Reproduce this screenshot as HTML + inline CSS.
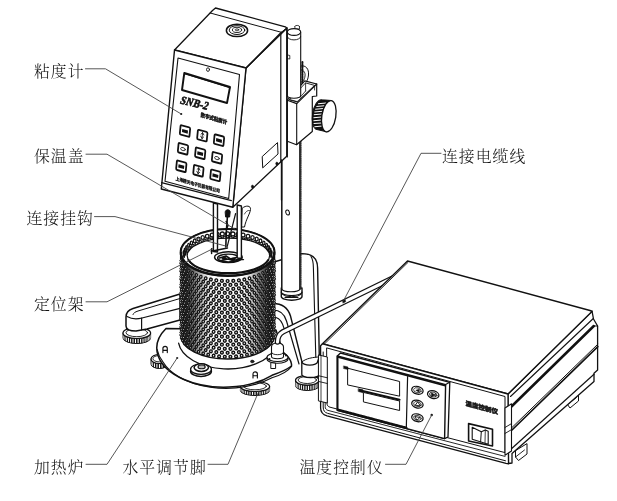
<!DOCTYPE html>
<html lang="zh"><head><meta charset="utf-8"><title>粘度计</title><style>html,body{margin:0;padding:0;background:#fff}svg{display:block;filter:grayscale(1)}</style></head><body>
<svg width="617" height="501" viewBox="0 0 617 501" stroke-linecap="round" stroke-linejoin="round">
<rect width="617" height="501" fill="#fff"/>
<path d="M295.5,380.3 L295.5,385.7 A11.8,4.8 0 0 0 319.1,385.7 L319.1,380.3Z" fill="#111" stroke="#111" stroke-width="1.0" />
<g stroke="#fff" stroke-linecap="butt"><line x1="295.8" y1="381.9" x2="295.8" y2="386.2" stroke-width="0.51"/><line x1="296.5" y1="382.9" x2="296.5" y2="387.2" stroke-width="0.66"/><line x1="297.8" y1="383.7" x2="297.8" y2="388.0" stroke-width="0.79"/><line x1="299.4" y1="384.5" x2="299.4" y2="388.8" stroke-width="0.91"/><line x1="301.4" y1="385.1" x2="301.4" y2="389.4" stroke-width="1.00"/><line x1="303.7" y1="385.5" x2="303.7" y2="389.8" stroke-width="1.06"/><line x1="306.1" y1="385.7" x2="306.1" y2="390.0" stroke-width="1.10"/><line x1="308.5" y1="385.7" x2="308.5" y2="390.0" stroke-width="1.10"/><line x1="310.9" y1="385.5" x2="310.9" y2="389.8" stroke-width="1.06"/><line x1="313.2" y1="385.1" x2="313.2" y2="389.4" stroke-width="1.00"/><line x1="315.2" y1="384.5" x2="315.2" y2="388.8" stroke-width="0.91"/><line x1="316.8" y1="383.7" x2="316.8" y2="388.0" stroke-width="0.79"/><line x1="318.1" y1="382.9" x2="318.1" y2="387.2" stroke-width="0.66"/><line x1="318.8" y1="381.9" x2="318.8" y2="386.2" stroke-width="0.51"/></g>
<ellipse cx="307.3" cy="380.3" rx="11.8" ry="4.8" fill="#fff" stroke="#111" stroke-width="1.2"/>
<ellipse cx="307.3" cy="380.0" rx="9.2" ry="3.5" fill="#fff" stroke="#111" stroke-width="0.9"/>
<path d="M301.8,362 L301.8,374.5 A8.8,3 0 0 0 319.4,374.5 L319.4,358 Z" fill="#fff" stroke="#111" stroke-width="1.3" />
<path d="M273,303.5 C283,303.5 288,308 290.5,316 L302,362 A7.5,3 0 0 0 317.5,362 L319.3,357 L317.6,268 C317.6,258 312,253.6 302,253.6 L274,262 Z" fill="#fff" stroke="#111" stroke-width="1.4" />
<path d="M273,310 C280,310 284.5,314 286.5,321 L299,364" fill="none" stroke="#111" stroke-width="1.2" />
<path d="M273,317 C277,317 280.5,319.5 282.5,324 L285,331" fill="none" stroke="#111" stroke-width="1.1" />
<path d="M311,256.5 C313,259.5 313.4,263 313.4,268 L315.8,357" fill="none" stroke="#111" stroke-width="1.1" />
<path d="M302,362 C305,358.5 314,357 319.3,357" fill="none" stroke="#111" stroke-width="1.0" />
<path d="M123.0,333.0 L123.0,338.0 A13.8,5.5 0 0 0 150.6,338.0 L150.6,333.0Z" fill="#111" stroke="#111" stroke-width="1.0" />
<g stroke="#fff" stroke-linecap="butt"><line x1="123.2" y1="334.6" x2="123.2" y2="338.5" stroke-width="0.49"/><line x1="123.9" y1="335.6" x2="123.9" y2="339.5" stroke-width="0.62"/><line x1="125.1" y1="336.5" x2="125.1" y2="340.4" stroke-width="0.74"/><line x1="126.6" y1="337.3" x2="126.6" y2="341.2" stroke-width="0.86"/><line x1="128.5" y1="338.0" x2="128.5" y2="341.9" stroke-width="0.95"/><line x1="130.6" y1="338.5" x2="130.6" y2="342.4" stroke-width="1.02"/><line x1="133.0" y1="338.9" x2="133.0" y2="342.8" stroke-width="1.07"/><line x1="135.5" y1="339.1" x2="135.5" y2="343.0" stroke-width="1.10"/><line x1="138.1" y1="339.1" x2="138.1" y2="343.0" stroke-width="1.10"/><line x1="140.6" y1="338.9" x2="140.6" y2="342.8" stroke-width="1.07"/><line x1="143.0" y1="338.5" x2="143.0" y2="342.4" stroke-width="1.02"/><line x1="145.1" y1="338.0" x2="145.1" y2="341.9" stroke-width="0.95"/><line x1="147.0" y1="337.3" x2="147.0" y2="341.2" stroke-width="0.86"/><line x1="148.5" y1="336.5" x2="148.5" y2="340.4" stroke-width="0.74"/><line x1="149.7" y1="335.6" x2="149.7" y2="339.5" stroke-width="0.62"/><line x1="150.4" y1="334.6" x2="150.4" y2="338.5" stroke-width="0.49"/></g>
<ellipse cx="136.8" cy="333.0" rx="13.8" ry="5.5" fill="#fff" stroke="#111" stroke-width="1.2"/>
<ellipse cx="136.8" cy="332.7" rx="10.8" ry="4.0" fill="#fff" stroke="#111" stroke-width="0.9"/>
<path d="M180,294 L133,308.5 C128,310 126,313 126,317 L126,326 C126,329 130,331 136,331 L147,329 L180,320 Z" fill="#fff" stroke="#111" stroke-width="1.5" />
<path d="M180,308.3 L142,318 C137,319.3 131,318.8 127,316.5" fill="none" stroke="#111" stroke-width="1.25" />
<path d="M141.6,318.2 L141.6,330" fill="none" stroke="#111" stroke-width="1.2" />
<path d="M180,298.5 L138,311 C135,312 133.5,313 133,314.5" fill="none" stroke="#111" stroke-width="1.0" />
<path d="M281.3,288 L281.3,296.5 A10.3,3.8 0 0 0 302,296.5 L302,288 Z" fill="#fff" stroke="#111" stroke-width="1.4" />
<path d="M281.3,292 A10.3,3.6 0 0 0 302,292" fill="none" stroke="#111" stroke-width="1.2" />
<path d="M282.5,294.5 A10,3.6 0 0 0 301,294.5" fill="none" stroke="#111" stroke-width="1.0" />
<path d="M285,297.3 L298,297.5" fill="none" stroke="#111" stroke-width="1.2" />
<path d="M281.6,160.0 L281.6,289.0 L300.2,289.0 L300.2,132.0 L296.5,144.8 L287.3,141.3 L287.3,156.0Z" fill="#fff" stroke="none" stroke-width="0" />
<line x1="281.8" y1="160.0" x2="281.8" y2="289.0" stroke="#111" stroke-width="1.5"/>
<line x1="299.9" y1="133.0" x2="299.9" y2="289.0" stroke="#111" stroke-width="1.5"/>
<line x1="287.3" y1="141.3" x2="287.3" y2="157.0" stroke="#111" stroke-width="1.1"/>
<path d="M281.6,289 A9.4,3.2 0 0 0 300.2,289" fill="none" stroke="#111" stroke-width="1.2" />
<line x1="300.9" y1="136" x2="300.9" y2="287" stroke="#111" stroke-width="1.2" stroke-dasharray="1.2 1"/>
<ellipse cx="287.6" cy="212.5" rx="1.8" ry="2.6" fill="#fff" stroke="#111" stroke-width="1.0" transform="rotate(-15 287.6 212.5)"/>
<path d="M151.0,359.0 L151.0,364.0 A8.5,4.5 0 0 0 168.0,364.0 L168.0,359.0Z" fill="#111" stroke="#111" stroke-width="1.0" />
<g stroke="#fff" stroke-linecap="butt"><line x1="151.4" y1="361.0" x2="151.4" y2="364.9" stroke-width="0.58"/><line x1="152.6" y1="362.2" x2="152.6" y2="366.1" stroke-width="0.79"/><line x1="154.5" y1="363.2" x2="154.5" y2="367.1" stroke-width="0.96"/><line x1="156.9" y1="363.9" x2="156.9" y2="367.8" stroke-width="1.06"/><line x1="159.5" y1="364.1" x2="159.5" y2="368.0" stroke-width="1.10"/><line x1="162.1" y1="363.9" x2="162.1" y2="367.8" stroke-width="1.06"/><line x1="164.5" y1="363.2" x2="164.5" y2="367.1" stroke-width="0.96"/><line x1="166.4" y1="362.2" x2="166.4" y2="366.1" stroke-width="0.79"/><line x1="167.6" y1="361.0" x2="167.6" y2="364.9" stroke-width="0.58"/></g>
<ellipse cx="159.5" cy="359.0" rx="8.5" ry="4.5" fill="#fff" stroke="#111" stroke-width="1.2"/>
<ellipse cx="159.5" cy="358.7" rx="6.6" ry="3.2" fill="#fff" stroke="#111" stroke-width="0.9"/>
<path d="M240.4,386.5 L240.4,390.5 A14.6,5.0 0 0 0 269.6,390.5 L269.6,386.5Z" fill="#111" stroke="#111" stroke-width="1.0" />
<g stroke="#fff" stroke-linecap="butt"><line x1="240.6" y1="388.0" x2="240.6" y2="390.9" stroke-width="0.48"/><line x1="241.3" y1="388.8" x2="241.3" y2="391.7" stroke-width="0.61"/><line x1="242.4" y1="389.6" x2="242.4" y2="392.5" stroke-width="0.72"/><line x1="243.8" y1="390.3" x2="243.8" y2="393.2" stroke-width="0.83"/><line x1="245.6" y1="390.9" x2="245.6" y2="393.8" stroke-width="0.92"/><line x1="247.7" y1="391.4" x2="247.7" y2="394.3" stroke-width="1.00"/><line x1="250.0" y1="391.8" x2="250.0" y2="394.7" stroke-width="1.05"/><line x1="252.5" y1="392.0" x2="252.5" y2="394.9" stroke-width="1.09"/><line x1="255.0" y1="392.1" x2="255.0" y2="395.0" stroke-width="1.10"/><line x1="257.5" y1="392.0" x2="257.5" y2="394.9" stroke-width="1.09"/><line x1="260.0" y1="391.8" x2="260.0" y2="394.7" stroke-width="1.05"/><line x1="262.3" y1="391.4" x2="262.3" y2="394.3" stroke-width="1.00"/><line x1="264.4" y1="390.9" x2="264.4" y2="393.8" stroke-width="0.92"/><line x1="266.2" y1="390.3" x2="266.2" y2="393.2" stroke-width="0.83"/><line x1="267.6" y1="389.6" x2="267.6" y2="392.5" stroke-width="0.73"/><line x1="268.7" y1="388.8" x2="268.7" y2="391.7" stroke-width="0.61"/><line x1="269.4" y1="388.0" x2="269.4" y2="390.9" stroke-width="0.48"/></g>
<ellipse cx="255.0" cy="386.5" rx="14.6" ry="5.0" fill="#fff" stroke="#111" stroke-width="1.2"/>
<ellipse cx="255.0" cy="386.2" rx="11.4" ry="3.6" fill="#fff" stroke="#111" stroke-width="0.9"/>
<path d="M166,328.5 A67,39 0 0 0 272,375.3 C280,372.5 287,369.5 291.5,366 L291.5,364 C291,360 288,356 283,352 L276,330 Z" fill="#fff" stroke="#111" stroke-width="1.5" />
<path d="M157.1,349.5 C158,354 160,358 163,362 A67,39 0 0 0 272,377.8 C281,375 288,371.5 291.5,366.5" fill="none" stroke="#111" stroke-width="1.2" />
<path d="M178.6,343.2 A49.5,29 0 0 0 275.5,347.7" fill="none" stroke="#111" stroke-width="1.3" />
<path d="M162.9,352.6 L162.9,348.6 A2.2,2.2 0 0 1 167.3,348.6 L167.3,352.6 M163.5,350.3 L166.7,350.3" fill="none" stroke="#111" stroke-width="1.15" />
<path d="M253,378 L253,374 A2.2,2.2 0 0 1 257.4,374 L257.4,378 M253.6,375.7 L256.8,375.7" fill="none" stroke="#111" stroke-width="1.15" />
<circle cx="177.2" cy="358" r="1.1" fill="#222"/>
<ellipse cx="252.3" cy="361.5" rx="1.8" ry="1.4" fill="#222" stroke="#111" stroke-width="0.5"/>
<ellipse cx="201.0" cy="371.2" rx="10.4" ry="5.2" fill="#fff" stroke="#111" stroke-width="1.5"/>
<ellipse cx="201.0" cy="369.2" rx="10.4" ry="5.2" fill="#fff" stroke="#111" stroke-width="1.3"/>
<ellipse cx="201.3" cy="367.6" rx="7.2" ry="3.8" fill="#fff" stroke="#111" stroke-width="1.5"/>
<ellipse cx="201.6" cy="366.9" rx="3.6" ry="1.9" fill="#bbb" stroke="#111" stroke-width="1.1"/>
<defs><linearGradient id="mg" x1="0" y1="0" x2="1" y2="0"><stop offset="0" stop-color="#111"/><stop offset="0.07" stop-color="#2a2a2a"/><stop offset="0.15" stop-color="#777"/><stop offset="0.24" stop-color="#ccc"/><stop offset="0.33" stop-color="#fff"/><stop offset="0.67" stop-color="#fff"/><stop offset="0.76" stop-color="#ccc"/><stop offset="0.85" stop-color="#777"/><stop offset="0.93" stop-color="#2a2a2a"/><stop offset="1" stop-color="#111"/></linearGradient></defs>
<path d="M180.6,252.5 L180.6,335.5 A47.0,23.5 0 0 0 274.6,335.5 L274.6,252.5 A47.0,23.5 0 0 0 180.6,252.5Z" fill="url(#mg)" stroke="#111" stroke-width="1.3" />
<g fill="#fff" stroke="#111" stroke-width="1.45"><ellipse cx="180.9" cy="260.2" rx="0.74" ry="1.40" stroke-width="0.87" transform="rotate(35 180.9 260.2)"/><ellipse cx="181.9" cy="263.0" rx="0.78" ry="1.40" stroke-width="0.95" transform="rotate(35 181.9 263.0)"/><ellipse cx="183.6" cy="265.7" rx="0.81" ry="1.40" stroke-width="1.03" transform="rotate(35 183.6 265.7)"/><ellipse cx="185.9" cy="268.3" rx="0.85" ry="1.40" stroke-width="1.10" transform="rotate(35 185.9 268.3)"/><ellipse cx="188.8" cy="270.8" rx="0.88" ry="1.40" stroke-width="1.17" transform="rotate(35 188.8 270.8)"/><ellipse cx="192.3" cy="273.0" rx="0.93" ry="1.40" stroke-width="1.23" transform="rotate(30 192.3 273.0)"/><ellipse cx="196.3" cy="275.0" rx="1.05" ry="1.40" stroke-width="1.29" transform="rotate(24 196.3 275.0)"/><ellipse cx="200.8" cy="276.8" rx="1.15" ry="1.40" stroke-width="1.33" transform="rotate(19 200.8 276.8)"/><ellipse cx="205.7" cy="278.3" rx="1.24" ry="1.40" stroke-width="1.38" transform="rotate(15 205.7 278.3)"/><ellipse cx="210.9" cy="279.5" rx="1.31" ry="1.40" stroke-width="1.41" transform="rotate(11 210.9 279.5)"/><ellipse cx="216.3" cy="280.3" rx="1.36" ry="1.40" stroke-width="1.43" transform="rotate(7 216.3 280.3)"/><ellipse cx="221.9" cy="280.8" rx="1.39" ry="1.40" stroke-width="1.45" transform="rotate(3 221.9 280.8)"/><ellipse cx="227.6" cy="281.0" rx="1.40" ry="1.40" stroke-width="1.45" transform="rotate(-0 227.6 281.0)"/><ellipse cx="233.3" cy="280.8" rx="1.39" ry="1.40" stroke-width="1.45" transform="rotate(-3 233.3 280.8)"/><ellipse cx="238.9" cy="280.3" rx="1.36" ry="1.40" stroke-width="1.43" transform="rotate(-7 238.9 280.3)"/><ellipse cx="244.3" cy="279.5" rx="1.31" ry="1.40" stroke-width="1.41" transform="rotate(-11 244.3 279.5)"/><ellipse cx="249.5" cy="278.3" rx="1.24" ry="1.40" stroke-width="1.38" transform="rotate(-15 249.5 278.3)"/><ellipse cx="254.4" cy="276.8" rx="1.15" ry="1.40" stroke-width="1.33" transform="rotate(-19 254.4 276.8)"/><ellipse cx="258.9" cy="275.0" rx="1.05" ry="1.40" stroke-width="1.29" transform="rotate(-24 258.9 275.0)"/><ellipse cx="262.9" cy="273.0" rx="0.93" ry="1.40" stroke-width="1.23" transform="rotate(-30 262.9 273.0)"/><ellipse cx="266.4" cy="270.8" rx="0.88" ry="1.40" stroke-width="1.17" transform="rotate(-35 266.4 270.8)"/><ellipse cx="269.3" cy="268.3" rx="0.85" ry="1.40" stroke-width="1.10" transform="rotate(-35 269.3 268.3)"/><ellipse cx="271.6" cy="265.7" rx="0.81" ry="1.40" stroke-width="1.03" transform="rotate(-35 271.6 265.7)"/><ellipse cx="273.3" cy="263.0" rx="0.78" ry="1.40" stroke-width="0.95" transform="rotate(-35 273.3 263.0)"/><ellipse cx="274.3" cy="260.2" rx="0.74" ry="1.40" stroke-width="0.87" transform="rotate(-35 274.3 260.2)"/><ellipse cx="180.7" cy="262.8" rx="0.72" ry="1.40" stroke-width="0.84" transform="rotate(35 180.7 262.8)"/><ellipse cx="181.3" cy="265.6" rx="0.76" ry="1.40" stroke-width="0.91" transform="rotate(35 181.3 265.6)"/><ellipse cx="182.7" cy="268.4" rx="0.80" ry="1.40" stroke-width="0.99" transform="rotate(35 182.7 268.4)"/><ellipse cx="184.7" cy="271.0" rx="0.83" ry="1.40" stroke-width="1.06" transform="rotate(35 184.7 271.0)"/><ellipse cx="187.3" cy="273.6" rx="0.87" ry="1.40" stroke-width="1.13" transform="rotate(35 187.3 273.6)"/><ellipse cx="190.5" cy="275.9" rx="0.90" ry="1.40" stroke-width="1.20" transform="rotate(33 190.5 275.9)"/><ellipse cx="194.3" cy="278.1" rx="0.99" ry="1.40" stroke-width="1.26" transform="rotate(27 194.3 278.1)"/><ellipse cx="198.5" cy="280.0" rx="1.10" ry="1.40" stroke-width="1.31" transform="rotate(21 198.5 280.0)"/><ellipse cx="203.2" cy="281.6" rx="1.20" ry="1.40" stroke-width="1.36" transform="rotate(17 203.2 281.6)"/><ellipse cx="208.2" cy="282.9" rx="1.28" ry="1.40" stroke-width="1.39" transform="rotate(13 208.2 282.9)"/><ellipse cx="213.6" cy="283.9" rx="1.34" ry="1.40" stroke-width="1.42" transform="rotate(9 213.6 283.9)"/><ellipse cx="219.1" cy="284.6" rx="1.38" ry="1.40" stroke-width="1.44" transform="rotate(5 219.1 284.6)"/><ellipse cx="224.8" cy="284.9" rx="1.40" ry="1.40" stroke-width="1.45" transform="rotate(2 224.8 284.9)"/><ellipse cx="230.4" cy="284.9" rx="1.40" ry="1.40" stroke-width="1.45" transform="rotate(-2 230.4 284.9)"/><ellipse cx="236.1" cy="284.6" rx="1.38" ry="1.40" stroke-width="1.44" transform="rotate(-5 236.1 284.6)"/><ellipse cx="241.6" cy="283.9" rx="1.34" ry="1.40" stroke-width="1.42" transform="rotate(-9 241.6 283.9)"/><ellipse cx="247.0" cy="282.9" rx="1.28" ry="1.40" stroke-width="1.39" transform="rotate(-13 247.0 282.9)"/><ellipse cx="252.0" cy="281.6" rx="1.20" ry="1.40" stroke-width="1.36" transform="rotate(-17 252.0 281.6)"/><ellipse cx="256.7" cy="280.0" rx="1.10" ry="1.40" stroke-width="1.31" transform="rotate(-21 256.7 280.0)"/><ellipse cx="260.9" cy="278.1" rx="0.99" ry="1.40" stroke-width="1.26" transform="rotate(-27 260.9 278.1)"/><ellipse cx="264.7" cy="275.9" rx="0.90" ry="1.40" stroke-width="1.20" transform="rotate(-33 264.7 275.9)"/><ellipse cx="267.9" cy="273.6" rx="0.87" ry="1.40" stroke-width="1.13" transform="rotate(-35 267.9 273.6)"/><ellipse cx="270.5" cy="271.0" rx="0.83" ry="1.40" stroke-width="1.06" transform="rotate(-35 270.5 271.0)"/><ellipse cx="272.5" cy="268.4" rx="0.80" ry="1.40" stroke-width="0.99" transform="rotate(-35 272.5 268.4)"/><ellipse cx="273.9" cy="265.6" rx="0.76" ry="1.40" stroke-width="0.91" transform="rotate(-35 273.9 265.6)"/><ellipse cx="274.5" cy="262.8" rx="0.72" ry="1.40" stroke-width="0.84" transform="rotate(-35 274.5 262.8)"/><ellipse cx="180.9" cy="268.2" rx="0.74" ry="1.40" stroke-width="0.87" transform="rotate(35 180.9 268.2)"/><ellipse cx="181.9" cy="271.0" rx="0.78" ry="1.40" stroke-width="0.95" transform="rotate(35 181.9 271.0)"/><ellipse cx="183.6" cy="273.7" rx="0.81" ry="1.40" stroke-width="1.03" transform="rotate(35 183.6 273.7)"/><ellipse cx="185.9" cy="276.3" rx="0.85" ry="1.40" stroke-width="1.10" transform="rotate(35 185.9 276.3)"/><ellipse cx="188.8" cy="278.8" rx="0.88" ry="1.40" stroke-width="1.17" transform="rotate(35 188.8 278.8)"/><ellipse cx="192.3" cy="281.0" rx="0.93" ry="1.40" stroke-width="1.23" transform="rotate(30 192.3 281.0)"/><ellipse cx="196.3" cy="283.0" rx="1.05" ry="1.40" stroke-width="1.29" transform="rotate(24 196.3 283.0)"/><ellipse cx="200.8" cy="284.8" rx="1.15" ry="1.40" stroke-width="1.33" transform="rotate(19 200.8 284.8)"/><ellipse cx="205.7" cy="286.3" rx="1.24" ry="1.40" stroke-width="1.38" transform="rotate(15 205.7 286.3)"/><ellipse cx="210.9" cy="287.4" rx="1.31" ry="1.40" stroke-width="1.41" transform="rotate(11 210.9 287.4)"/><ellipse cx="216.3" cy="288.3" rx="1.36" ry="1.40" stroke-width="1.43" transform="rotate(7 216.3 288.3)"/><ellipse cx="221.9" cy="288.8" rx="1.39" ry="1.40" stroke-width="1.45" transform="rotate(3 221.9 288.8)"/><ellipse cx="227.6" cy="289.0" rx="1.40" ry="1.40" stroke-width="1.45" transform="rotate(-0 227.6 289.0)"/><ellipse cx="233.3" cy="288.8" rx="1.39" ry="1.40" stroke-width="1.45" transform="rotate(-3 233.3 288.8)"/><ellipse cx="238.9" cy="288.3" rx="1.36" ry="1.40" stroke-width="1.43" transform="rotate(-7 238.9 288.3)"/><ellipse cx="244.3" cy="287.4" rx="1.31" ry="1.40" stroke-width="1.41" transform="rotate(-11 244.3 287.4)"/><ellipse cx="249.5" cy="286.3" rx="1.24" ry="1.40" stroke-width="1.38" transform="rotate(-15 249.5 286.3)"/><ellipse cx="254.4" cy="284.8" rx="1.15" ry="1.40" stroke-width="1.33" transform="rotate(-19 254.4 284.8)"/><ellipse cx="258.9" cy="283.0" rx="1.05" ry="1.40" stroke-width="1.29" transform="rotate(-24 258.9 283.0)"/><ellipse cx="262.9" cy="281.0" rx="0.93" ry="1.40" stroke-width="1.23" transform="rotate(-30 262.9 281.0)"/><ellipse cx="266.4" cy="278.8" rx="0.88" ry="1.40" stroke-width="1.17" transform="rotate(-35 266.4 278.8)"/><ellipse cx="269.3" cy="276.3" rx="0.85" ry="1.40" stroke-width="1.10" transform="rotate(-35 269.3 276.3)"/><ellipse cx="271.6" cy="273.7" rx="0.81" ry="1.40" stroke-width="1.03" transform="rotate(-35 271.6 273.7)"/><ellipse cx="273.3" cy="271.0" rx="0.78" ry="1.40" stroke-width="0.95" transform="rotate(-35 273.3 271.0)"/><ellipse cx="274.3" cy="268.2" rx="0.74" ry="1.40" stroke-width="0.87" transform="rotate(-35 274.3 268.2)"/><ellipse cx="180.7" cy="270.8" rx="0.72" ry="1.40" stroke-width="0.84" transform="rotate(35 180.7 270.8)"/><ellipse cx="181.3" cy="273.6" rx="0.76" ry="1.40" stroke-width="0.91" transform="rotate(35 181.3 273.6)"/><ellipse cx="182.7" cy="276.4" rx="0.80" ry="1.40" stroke-width="0.99" transform="rotate(35 182.7 276.4)"/><ellipse cx="184.7" cy="279.0" rx="0.83" ry="1.40" stroke-width="1.06" transform="rotate(35 184.7 279.0)"/><ellipse cx="187.3" cy="281.5" rx="0.87" ry="1.40" stroke-width="1.13" transform="rotate(35 187.3 281.5)"/><ellipse cx="190.5" cy="283.9" rx="0.90" ry="1.40" stroke-width="1.20" transform="rotate(33 190.5 283.9)"/><ellipse cx="194.3" cy="286.0" rx="0.99" ry="1.40" stroke-width="1.26" transform="rotate(27 194.3 286.0)"/><ellipse cx="198.5" cy="287.9" rx="1.10" ry="1.40" stroke-width="1.31" transform="rotate(21 198.5 287.9)"/><ellipse cx="203.2" cy="289.6" rx="1.20" ry="1.40" stroke-width="1.36" transform="rotate(17 203.2 289.6)"/><ellipse cx="208.2" cy="290.9" rx="1.28" ry="1.40" stroke-width="1.39" transform="rotate(13 208.2 290.9)"/><ellipse cx="213.6" cy="291.9" rx="1.34" ry="1.40" stroke-width="1.42" transform="rotate(9 213.6 291.9)"/><ellipse cx="219.1" cy="292.6" rx="1.38" ry="1.40" stroke-width="1.44" transform="rotate(5 219.1 292.6)"/><ellipse cx="224.8" cy="292.9" rx="1.40" ry="1.40" stroke-width="1.45" transform="rotate(2 224.8 292.9)"/><ellipse cx="230.4" cy="292.9" rx="1.40" ry="1.40" stroke-width="1.45" transform="rotate(-2 230.4 292.9)"/><ellipse cx="236.1" cy="292.6" rx="1.38" ry="1.40" stroke-width="1.44" transform="rotate(-5 236.1 292.6)"/><ellipse cx="241.6" cy="291.9" rx="1.34" ry="1.40" stroke-width="1.42" transform="rotate(-9 241.6 291.9)"/><ellipse cx="247.0" cy="290.9" rx="1.28" ry="1.40" stroke-width="1.39" transform="rotate(-13 247.0 290.9)"/><ellipse cx="252.0" cy="289.6" rx="1.20" ry="1.40" stroke-width="1.36" transform="rotate(-17 252.0 289.6)"/><ellipse cx="256.7" cy="287.9" rx="1.10" ry="1.40" stroke-width="1.31" transform="rotate(-21 256.7 287.9)"/><ellipse cx="260.9" cy="286.0" rx="0.99" ry="1.40" stroke-width="1.26" transform="rotate(-27 260.9 286.0)"/><ellipse cx="264.7" cy="283.9" rx="0.90" ry="1.40" stroke-width="1.20" transform="rotate(-33 264.7 283.9)"/><ellipse cx="267.9" cy="281.5" rx="0.87" ry="1.40" stroke-width="1.13" transform="rotate(-35 267.9 281.5)"/><ellipse cx="270.5" cy="279.0" rx="0.83" ry="1.40" stroke-width="1.06" transform="rotate(-35 270.5 279.0)"/><ellipse cx="272.5" cy="276.4" rx="0.80" ry="1.40" stroke-width="0.99" transform="rotate(-35 272.5 276.4)"/><ellipse cx="273.9" cy="273.6" rx="0.76" ry="1.40" stroke-width="0.91" transform="rotate(-35 273.9 273.6)"/><ellipse cx="274.5" cy="270.8" rx="0.72" ry="1.40" stroke-width="0.84" transform="rotate(-35 274.5 270.8)"/><ellipse cx="180.9" cy="276.2" rx="0.74" ry="1.40" stroke-width="0.87" transform="rotate(35 180.9 276.2)"/><ellipse cx="181.9" cy="279.0" rx="0.78" ry="1.40" stroke-width="0.95" transform="rotate(35 181.9 279.0)"/><ellipse cx="183.6" cy="281.7" rx="0.81" ry="1.40" stroke-width="1.03" transform="rotate(35 183.6 281.7)"/><ellipse cx="185.9" cy="284.3" rx="0.85" ry="1.40" stroke-width="1.10" transform="rotate(35 185.9 284.3)"/><ellipse cx="188.8" cy="286.7" rx="0.88" ry="1.40" stroke-width="1.17" transform="rotate(35 188.8 286.7)"/><ellipse cx="192.3" cy="289.0" rx="0.93" ry="1.40" stroke-width="1.23" transform="rotate(30 192.3 289.0)"/><ellipse cx="196.3" cy="291.0" rx="1.05" ry="1.40" stroke-width="1.29" transform="rotate(24 196.3 291.0)"/><ellipse cx="200.8" cy="292.8" rx="1.15" ry="1.40" stroke-width="1.33" transform="rotate(19 200.8 292.8)"/><ellipse cx="205.7" cy="294.2" rx="1.24" ry="1.40" stroke-width="1.38" transform="rotate(15 205.7 294.2)"/><ellipse cx="210.9" cy="295.4" rx="1.31" ry="1.40" stroke-width="1.41" transform="rotate(11 210.9 295.4)"/><ellipse cx="216.3" cy="296.3" rx="1.36" ry="1.40" stroke-width="1.43" transform="rotate(7 216.3 296.3)"/><ellipse cx="221.9" cy="296.8" rx="1.39" ry="1.40" stroke-width="1.45" transform="rotate(3 221.9 296.8)"/><ellipse cx="227.6" cy="297.0" rx="1.40" ry="1.40" stroke-width="1.45" transform="rotate(-0 227.6 297.0)"/><ellipse cx="233.3" cy="296.8" rx="1.39" ry="1.40" stroke-width="1.45" transform="rotate(-3 233.3 296.8)"/><ellipse cx="238.9" cy="296.3" rx="1.36" ry="1.40" stroke-width="1.43" transform="rotate(-7 238.9 296.3)"/><ellipse cx="244.3" cy="295.4" rx="1.31" ry="1.40" stroke-width="1.41" transform="rotate(-11 244.3 295.4)"/><ellipse cx="249.5" cy="294.2" rx="1.24" ry="1.40" stroke-width="1.38" transform="rotate(-15 249.5 294.2)"/><ellipse cx="254.4" cy="292.8" rx="1.15" ry="1.40" stroke-width="1.33" transform="rotate(-19 254.4 292.8)"/><ellipse cx="258.9" cy="291.0" rx="1.05" ry="1.40" stroke-width="1.29" transform="rotate(-24 258.9 291.0)"/><ellipse cx="262.9" cy="289.0" rx="0.93" ry="1.40" stroke-width="1.23" transform="rotate(-30 262.9 289.0)"/><ellipse cx="266.4" cy="286.7" rx="0.88" ry="1.40" stroke-width="1.17" transform="rotate(-35 266.4 286.7)"/><ellipse cx="269.3" cy="284.3" rx="0.85" ry="1.40" stroke-width="1.10" transform="rotate(-35 269.3 284.3)"/><ellipse cx="271.6" cy="281.7" rx="0.81" ry="1.40" stroke-width="1.03" transform="rotate(-35 271.6 281.7)"/><ellipse cx="273.3" cy="279.0" rx="0.78" ry="1.40" stroke-width="0.95" transform="rotate(-35 273.3 279.0)"/><ellipse cx="274.3" cy="276.2" rx="0.74" ry="1.40" stroke-width="0.87" transform="rotate(-35 274.3 276.2)"/><ellipse cx="180.7" cy="278.7" rx="0.72" ry="1.40" stroke-width="0.84" transform="rotate(35 180.7 278.7)"/><ellipse cx="181.3" cy="281.6" rx="0.76" ry="1.40" stroke-width="0.91" transform="rotate(35 181.3 281.6)"/><ellipse cx="182.7" cy="284.3" rx="0.80" ry="1.40" stroke-width="0.99" transform="rotate(35 182.7 284.3)"/><ellipse cx="184.7" cy="287.0" rx="0.83" ry="1.40" stroke-width="1.06" transform="rotate(35 184.7 287.0)"/><ellipse cx="187.3" cy="289.5" rx="0.87" ry="1.40" stroke-width="1.13" transform="rotate(35 187.3 289.5)"/><ellipse cx="190.5" cy="291.9" rx="0.90" ry="1.40" stroke-width="1.20" transform="rotate(33 190.5 291.9)"/><ellipse cx="194.3" cy="294.0" rx="0.99" ry="1.40" stroke-width="1.26" transform="rotate(27 194.3 294.0)"/><ellipse cx="198.5" cy="295.9" rx="1.10" ry="1.40" stroke-width="1.31" transform="rotate(21 198.5 295.9)"/><ellipse cx="203.2" cy="297.5" rx="1.20" ry="1.40" stroke-width="1.36" transform="rotate(17 203.2 297.5)"/><ellipse cx="208.2" cy="298.9" rx="1.28" ry="1.40" stroke-width="1.39" transform="rotate(13 208.2 298.9)"/><ellipse cx="213.6" cy="299.9" rx="1.34" ry="1.40" stroke-width="1.42" transform="rotate(9 213.6 299.9)"/><ellipse cx="219.1" cy="300.6" rx="1.38" ry="1.40" stroke-width="1.44" transform="rotate(5 219.1 300.6)"/><ellipse cx="224.8" cy="300.9" rx="1.40" ry="1.40" stroke-width="1.45" transform="rotate(2 224.8 300.9)"/><ellipse cx="230.4" cy="300.9" rx="1.40" ry="1.40" stroke-width="1.45" transform="rotate(-2 230.4 300.9)"/><ellipse cx="236.1" cy="300.6" rx="1.38" ry="1.40" stroke-width="1.44" transform="rotate(-5 236.1 300.6)"/><ellipse cx="241.6" cy="299.9" rx="1.34" ry="1.40" stroke-width="1.42" transform="rotate(-9 241.6 299.9)"/><ellipse cx="247.0" cy="298.9" rx="1.28" ry="1.40" stroke-width="1.39" transform="rotate(-13 247.0 298.9)"/><ellipse cx="252.0" cy="297.5" rx="1.20" ry="1.40" stroke-width="1.36" transform="rotate(-17 252.0 297.5)"/><ellipse cx="256.7" cy="295.9" rx="1.10" ry="1.40" stroke-width="1.31" transform="rotate(-21 256.7 295.9)"/><ellipse cx="260.9" cy="294.0" rx="0.99" ry="1.40" stroke-width="1.26" transform="rotate(-27 260.9 294.0)"/><ellipse cx="264.7" cy="291.9" rx="0.90" ry="1.40" stroke-width="1.20" transform="rotate(-33 264.7 291.9)"/><ellipse cx="267.9" cy="289.5" rx="0.87" ry="1.40" stroke-width="1.13" transform="rotate(-35 267.9 289.5)"/><ellipse cx="270.5" cy="287.0" rx="0.83" ry="1.40" stroke-width="1.06" transform="rotate(-35 270.5 287.0)"/><ellipse cx="272.5" cy="284.3" rx="0.80" ry="1.40" stroke-width="0.99" transform="rotate(-35 272.5 284.3)"/><ellipse cx="273.9" cy="281.6" rx="0.76" ry="1.40" stroke-width="0.91" transform="rotate(-35 273.9 281.6)"/><ellipse cx="274.5" cy="278.7" rx="0.72" ry="1.40" stroke-width="0.84" transform="rotate(-35 274.5 278.7)"/><ellipse cx="180.9" cy="284.1" rx="0.74" ry="1.40" stroke-width="0.87" transform="rotate(35 180.9 284.1)"/><ellipse cx="181.9" cy="286.9" rx="0.78" ry="1.40" stroke-width="0.95" transform="rotate(35 181.9 286.9)"/><ellipse cx="183.6" cy="289.7" rx="0.81" ry="1.40" stroke-width="1.03" transform="rotate(35 183.6 289.7)"/><ellipse cx="185.9" cy="292.3" rx="0.85" ry="1.40" stroke-width="1.10" transform="rotate(35 185.9 292.3)"/><ellipse cx="188.8" cy="294.7" rx="0.88" ry="1.40" stroke-width="1.17" transform="rotate(35 188.8 294.7)"/><ellipse cx="192.3" cy="297.0" rx="0.93" ry="1.40" stroke-width="1.23" transform="rotate(30 192.3 297.0)"/><ellipse cx="196.3" cy="299.0" rx="1.05" ry="1.40" stroke-width="1.29" transform="rotate(24 196.3 299.0)"/><ellipse cx="200.8" cy="300.7" rx="1.15" ry="1.40" stroke-width="1.33" transform="rotate(19 200.8 300.7)"/><ellipse cx="205.7" cy="302.2" rx="1.24" ry="1.40" stroke-width="1.38" transform="rotate(15 205.7 302.2)"/><ellipse cx="210.9" cy="303.4" rx="1.31" ry="1.40" stroke-width="1.41" transform="rotate(11 210.9 303.4)"/><ellipse cx="216.3" cy="304.2" rx="1.36" ry="1.40" stroke-width="1.43" transform="rotate(7 216.3 304.2)"/><ellipse cx="221.9" cy="304.8" rx="1.39" ry="1.40" stroke-width="1.45" transform="rotate(3 221.9 304.8)"/><ellipse cx="227.6" cy="304.9" rx="1.40" ry="1.40" stroke-width="1.45" transform="rotate(-0 227.6 304.9)"/><ellipse cx="233.3" cy="304.8" rx="1.39" ry="1.40" stroke-width="1.45" transform="rotate(-3 233.3 304.8)"/><ellipse cx="238.9" cy="304.2" rx="1.36" ry="1.40" stroke-width="1.43" transform="rotate(-7 238.9 304.2)"/><ellipse cx="244.3" cy="303.4" rx="1.31" ry="1.40" stroke-width="1.41" transform="rotate(-11 244.3 303.4)"/><ellipse cx="249.5" cy="302.2" rx="1.24" ry="1.40" stroke-width="1.38" transform="rotate(-15 249.5 302.2)"/><ellipse cx="254.4" cy="300.7" rx="1.15" ry="1.40" stroke-width="1.33" transform="rotate(-19 254.4 300.7)"/><ellipse cx="258.9" cy="299.0" rx="1.05" ry="1.40" stroke-width="1.29" transform="rotate(-24 258.9 299.0)"/><ellipse cx="262.9" cy="297.0" rx="0.93" ry="1.40" stroke-width="1.23" transform="rotate(-30 262.9 297.0)"/><ellipse cx="266.4" cy="294.7" rx="0.88" ry="1.40" stroke-width="1.17" transform="rotate(-35 266.4 294.7)"/><ellipse cx="269.3" cy="292.3" rx="0.85" ry="1.40" stroke-width="1.10" transform="rotate(-35 269.3 292.3)"/><ellipse cx="271.6" cy="289.7" rx="0.81" ry="1.40" stroke-width="1.03" transform="rotate(-35 271.6 289.7)"/><ellipse cx="273.3" cy="286.9" rx="0.78" ry="1.40" stroke-width="0.95" transform="rotate(-35 273.3 286.9)"/><ellipse cx="274.3" cy="284.1" rx="0.74" ry="1.40" stroke-width="0.87" transform="rotate(-35 274.3 284.1)"/><ellipse cx="180.7" cy="286.7" rx="0.72" ry="1.40" stroke-width="0.84" transform="rotate(35 180.7 286.7)"/><ellipse cx="181.3" cy="289.5" rx="0.76" ry="1.40" stroke-width="0.91" transform="rotate(35 181.3 289.5)"/><ellipse cx="182.7" cy="292.3" rx="0.80" ry="1.40" stroke-width="0.99" transform="rotate(35 182.7 292.3)"/><ellipse cx="184.7" cy="295.0" rx="0.83" ry="1.40" stroke-width="1.06" transform="rotate(35 184.7 295.0)"/><ellipse cx="187.3" cy="297.5" rx="0.87" ry="1.40" stroke-width="1.13" transform="rotate(35 187.3 297.5)"/><ellipse cx="190.5" cy="299.9" rx="0.90" ry="1.40" stroke-width="1.20" transform="rotate(33 190.5 299.9)"/><ellipse cx="194.3" cy="302.0" rx="0.99" ry="1.40" stroke-width="1.26" transform="rotate(27 194.3 302.0)"/><ellipse cx="198.5" cy="303.9" rx="1.10" ry="1.40" stroke-width="1.31" transform="rotate(21 198.5 303.9)"/><ellipse cx="203.2" cy="305.5" rx="1.20" ry="1.40" stroke-width="1.36" transform="rotate(17 203.2 305.5)"/><ellipse cx="208.2" cy="306.8" rx="1.28" ry="1.40" stroke-width="1.39" transform="rotate(13 208.2 306.8)"/><ellipse cx="213.6" cy="307.9" rx="1.34" ry="1.40" stroke-width="1.42" transform="rotate(9 213.6 307.9)"/><ellipse cx="219.1" cy="308.5" rx="1.38" ry="1.40" stroke-width="1.44" transform="rotate(5 219.1 308.5)"/><ellipse cx="224.8" cy="308.9" rx="1.40" ry="1.40" stroke-width="1.45" transform="rotate(2 224.8 308.9)"/><ellipse cx="230.4" cy="308.9" rx="1.40" ry="1.40" stroke-width="1.45" transform="rotate(-2 230.4 308.9)"/><ellipse cx="236.1" cy="308.5" rx="1.38" ry="1.40" stroke-width="1.44" transform="rotate(-5 236.1 308.5)"/><ellipse cx="241.6" cy="307.9" rx="1.34" ry="1.40" stroke-width="1.42" transform="rotate(-9 241.6 307.9)"/><ellipse cx="247.0" cy="306.8" rx="1.28" ry="1.40" stroke-width="1.39" transform="rotate(-13 247.0 306.8)"/><ellipse cx="252.0" cy="305.5" rx="1.20" ry="1.40" stroke-width="1.36" transform="rotate(-17 252.0 305.5)"/><ellipse cx="256.7" cy="303.9" rx="1.10" ry="1.40" stroke-width="1.31" transform="rotate(-21 256.7 303.9)"/><ellipse cx="260.9" cy="302.0" rx="0.99" ry="1.40" stroke-width="1.26" transform="rotate(-27 260.9 302.0)"/><ellipse cx="264.7" cy="299.9" rx="0.90" ry="1.40" stroke-width="1.20" transform="rotate(-33 264.7 299.9)"/><ellipse cx="267.9" cy="297.5" rx="0.87" ry="1.40" stroke-width="1.13" transform="rotate(-35 267.9 297.5)"/><ellipse cx="270.5" cy="295.0" rx="0.83" ry="1.40" stroke-width="1.06" transform="rotate(-35 270.5 295.0)"/><ellipse cx="272.5" cy="292.3" rx="0.80" ry="1.40" stroke-width="0.99" transform="rotate(-35 272.5 292.3)"/><ellipse cx="273.9" cy="289.5" rx="0.76" ry="1.40" stroke-width="0.91" transform="rotate(-35 273.9 289.5)"/><ellipse cx="274.5" cy="286.7" rx="0.72" ry="1.40" stroke-width="0.84" transform="rotate(-35 274.5 286.7)"/><ellipse cx="180.9" cy="292.1" rx="0.74" ry="1.40" stroke-width="0.87" transform="rotate(35 180.9 292.1)"/><ellipse cx="181.9" cy="294.9" rx="0.78" ry="1.40" stroke-width="0.95" transform="rotate(35 181.9 294.9)"/><ellipse cx="183.6" cy="297.7" rx="0.81" ry="1.40" stroke-width="1.03" transform="rotate(35 183.6 297.7)"/><ellipse cx="185.9" cy="300.3" rx="0.85" ry="1.40" stroke-width="1.10" transform="rotate(35 185.9 300.3)"/><ellipse cx="188.8" cy="302.7" rx="0.88" ry="1.40" stroke-width="1.17" transform="rotate(35 188.8 302.7)"/><ellipse cx="192.3" cy="304.9" rx="0.93" ry="1.40" stroke-width="1.23" transform="rotate(30 192.3 304.9)"/><ellipse cx="196.3" cy="307.0" rx="1.05" ry="1.40" stroke-width="1.29" transform="rotate(24 196.3 307.0)"/><ellipse cx="200.8" cy="308.7" rx="1.15" ry="1.40" stroke-width="1.33" transform="rotate(19 200.8 308.7)"/><ellipse cx="205.7" cy="310.2" rx="1.24" ry="1.40" stroke-width="1.38" transform="rotate(15 205.7 310.2)"/><ellipse cx="210.9" cy="311.4" rx="1.31" ry="1.40" stroke-width="1.41" transform="rotate(11 210.9 311.4)"/><ellipse cx="216.3" cy="312.2" rx="1.36" ry="1.40" stroke-width="1.43" transform="rotate(7 216.3 312.2)"/><ellipse cx="221.9" cy="312.7" rx="1.39" ry="1.40" stroke-width="1.45" transform="rotate(3 221.9 312.7)"/><ellipse cx="227.6" cy="312.9" rx="1.40" ry="1.40" stroke-width="1.45" transform="rotate(-0 227.6 312.9)"/><ellipse cx="233.3" cy="312.7" rx="1.39" ry="1.40" stroke-width="1.45" transform="rotate(-3 233.3 312.7)"/><ellipse cx="238.9" cy="312.2" rx="1.36" ry="1.40" stroke-width="1.43" transform="rotate(-7 238.9 312.2)"/><ellipse cx="244.3" cy="311.4" rx="1.31" ry="1.40" stroke-width="1.41" transform="rotate(-11 244.3 311.4)"/><ellipse cx="249.5" cy="310.2" rx="1.24" ry="1.40" stroke-width="1.38" transform="rotate(-15 249.5 310.2)"/><ellipse cx="254.4" cy="308.7" rx="1.15" ry="1.40" stroke-width="1.33" transform="rotate(-19 254.4 308.7)"/><ellipse cx="258.9" cy="307.0" rx="1.05" ry="1.40" stroke-width="1.29" transform="rotate(-24 258.9 307.0)"/><ellipse cx="262.9" cy="304.9" rx="0.93" ry="1.40" stroke-width="1.23" transform="rotate(-30 262.9 304.9)"/><ellipse cx="266.4" cy="302.7" rx="0.88" ry="1.40" stroke-width="1.17" transform="rotate(-35 266.4 302.7)"/><ellipse cx="269.3" cy="300.3" rx="0.85" ry="1.40" stroke-width="1.10" transform="rotate(-35 269.3 300.3)"/><ellipse cx="271.6" cy="297.7" rx="0.81" ry="1.40" stroke-width="1.03" transform="rotate(-35 271.6 297.7)"/><ellipse cx="273.3" cy="294.9" rx="0.78" ry="1.40" stroke-width="0.95" transform="rotate(-35 273.3 294.9)"/><ellipse cx="274.3" cy="292.1" rx="0.74" ry="1.40" stroke-width="0.87" transform="rotate(-35 274.3 292.1)"/><ellipse cx="180.7" cy="294.7" rx="0.72" ry="1.40" stroke-width="0.84" transform="rotate(35 180.7 294.7)"/><ellipse cx="181.3" cy="297.5" rx="0.76" ry="1.40" stroke-width="0.91" transform="rotate(35 181.3 297.5)"/><ellipse cx="182.7" cy="300.3" rx="0.80" ry="1.40" stroke-width="0.99" transform="rotate(35 182.7 300.3)"/><ellipse cx="184.7" cy="303.0" rx="0.83" ry="1.40" stroke-width="1.06" transform="rotate(35 184.7 303.0)"/><ellipse cx="187.3" cy="305.5" rx="0.87" ry="1.40" stroke-width="1.13" transform="rotate(35 187.3 305.5)"/><ellipse cx="190.5" cy="307.8" rx="0.90" ry="1.40" stroke-width="1.20" transform="rotate(33 190.5 307.8)"/><ellipse cx="194.3" cy="310.0" rx="0.99" ry="1.40" stroke-width="1.26" transform="rotate(27 194.3 310.0)"/><ellipse cx="198.5" cy="311.9" rx="1.10" ry="1.40" stroke-width="1.31" transform="rotate(21 198.5 311.9)"/><ellipse cx="203.2" cy="313.5" rx="1.20" ry="1.40" stroke-width="1.36" transform="rotate(17 203.2 313.5)"/><ellipse cx="208.2" cy="314.8" rx="1.28" ry="1.40" stroke-width="1.39" transform="rotate(13 208.2 314.8)"/><ellipse cx="213.6" cy="315.8" rx="1.34" ry="1.40" stroke-width="1.42" transform="rotate(9 213.6 315.8)"/><ellipse cx="219.1" cy="316.5" rx="1.38" ry="1.40" stroke-width="1.44" transform="rotate(5 219.1 316.5)"/><ellipse cx="224.8" cy="316.9" rx="1.40" ry="1.40" stroke-width="1.45" transform="rotate(2 224.8 316.9)"/><ellipse cx="230.4" cy="316.9" rx="1.40" ry="1.40" stroke-width="1.45" transform="rotate(-2 230.4 316.9)"/><ellipse cx="236.1" cy="316.5" rx="1.38" ry="1.40" stroke-width="1.44" transform="rotate(-5 236.1 316.5)"/><ellipse cx="241.6" cy="315.8" rx="1.34" ry="1.40" stroke-width="1.42" transform="rotate(-9 241.6 315.8)"/><ellipse cx="247.0" cy="314.8" rx="1.28" ry="1.40" stroke-width="1.39" transform="rotate(-13 247.0 314.8)"/><ellipse cx="252.0" cy="313.5" rx="1.20" ry="1.40" stroke-width="1.36" transform="rotate(-17 252.0 313.5)"/><ellipse cx="256.7" cy="311.9" rx="1.10" ry="1.40" stroke-width="1.31" transform="rotate(-21 256.7 311.9)"/><ellipse cx="260.9" cy="310.0" rx="0.99" ry="1.40" stroke-width="1.26" transform="rotate(-27 260.9 310.0)"/><ellipse cx="264.7" cy="307.8" rx="0.90" ry="1.40" stroke-width="1.20" transform="rotate(-33 264.7 307.8)"/><ellipse cx="267.9" cy="305.5" rx="0.87" ry="1.40" stroke-width="1.13" transform="rotate(-35 267.9 305.5)"/><ellipse cx="270.5" cy="303.0" rx="0.83" ry="1.40" stroke-width="1.06" transform="rotate(-35 270.5 303.0)"/><ellipse cx="272.5" cy="300.3" rx="0.80" ry="1.40" stroke-width="0.99" transform="rotate(-35 272.5 300.3)"/><ellipse cx="273.9" cy="297.5" rx="0.76" ry="1.40" stroke-width="0.91" transform="rotate(-35 273.9 297.5)"/><ellipse cx="274.5" cy="294.7" rx="0.72" ry="1.40" stroke-width="0.84" transform="rotate(-35 274.5 294.7)"/><ellipse cx="180.9" cy="300.1" rx="0.74" ry="1.40" stroke-width="0.87" transform="rotate(35 180.9 300.1)"/><ellipse cx="181.9" cy="302.9" rx="0.78" ry="1.40" stroke-width="0.95" transform="rotate(35 181.9 302.9)"/><ellipse cx="183.6" cy="305.6" rx="0.81" ry="1.40" stroke-width="1.03" transform="rotate(35 183.6 305.6)"/><ellipse cx="185.9" cy="308.2" rx="0.85" ry="1.40" stroke-width="1.10" transform="rotate(35 185.9 308.2)"/><ellipse cx="188.8" cy="310.7" rx="0.88" ry="1.40" stroke-width="1.17" transform="rotate(35 188.8 310.7)"/><ellipse cx="192.3" cy="312.9" rx="0.93" ry="1.40" stroke-width="1.23" transform="rotate(30 192.3 312.9)"/><ellipse cx="196.3" cy="314.9" rx="1.05" ry="1.40" stroke-width="1.29" transform="rotate(24 196.3 314.9)"/><ellipse cx="200.8" cy="316.7" rx="1.15" ry="1.40" stroke-width="1.33" transform="rotate(19 200.8 316.7)"/><ellipse cx="205.7" cy="318.2" rx="1.24" ry="1.40" stroke-width="1.38" transform="rotate(15 205.7 318.2)"/><ellipse cx="210.9" cy="319.4" rx="1.31" ry="1.40" stroke-width="1.41" transform="rotate(11 210.9 319.4)"/><ellipse cx="216.3" cy="320.2" rx="1.36" ry="1.40" stroke-width="1.43" transform="rotate(7 216.3 320.2)"/><ellipse cx="221.9" cy="320.7" rx="1.39" ry="1.40" stroke-width="1.45" transform="rotate(3 221.9 320.7)"/><ellipse cx="227.6" cy="320.9" rx="1.40" ry="1.40" stroke-width="1.45" transform="rotate(-0 227.6 320.9)"/><ellipse cx="233.3" cy="320.7" rx="1.39" ry="1.40" stroke-width="1.45" transform="rotate(-3 233.3 320.7)"/><ellipse cx="238.9" cy="320.2" rx="1.36" ry="1.40" stroke-width="1.43" transform="rotate(-7 238.9 320.2)"/><ellipse cx="244.3" cy="319.4" rx="1.31" ry="1.40" stroke-width="1.41" transform="rotate(-11 244.3 319.4)"/><ellipse cx="249.5" cy="318.2" rx="1.24" ry="1.40" stroke-width="1.38" transform="rotate(-15 249.5 318.2)"/><ellipse cx="254.4" cy="316.7" rx="1.15" ry="1.40" stroke-width="1.33" transform="rotate(-19 254.4 316.7)"/><ellipse cx="258.9" cy="314.9" rx="1.05" ry="1.40" stroke-width="1.29" transform="rotate(-24 258.9 314.9)"/><ellipse cx="262.9" cy="312.9" rx="0.93" ry="1.40" stroke-width="1.23" transform="rotate(-30 262.9 312.9)"/><ellipse cx="266.4" cy="310.7" rx="0.88" ry="1.40" stroke-width="1.17" transform="rotate(-35 266.4 310.7)"/><ellipse cx="269.3" cy="308.2" rx="0.85" ry="1.40" stroke-width="1.10" transform="rotate(-35 269.3 308.2)"/><ellipse cx="271.6" cy="305.6" rx="0.81" ry="1.40" stroke-width="1.03" transform="rotate(-35 271.6 305.6)"/><ellipse cx="273.3" cy="302.9" rx="0.78" ry="1.40" stroke-width="0.95" transform="rotate(-35 273.3 302.9)"/><ellipse cx="274.3" cy="300.1" rx="0.74" ry="1.40" stroke-width="0.87" transform="rotate(-35 274.3 300.1)"/><ellipse cx="180.7" cy="302.7" rx="0.72" ry="1.40" stroke-width="0.84" transform="rotate(35 180.7 302.7)"/><ellipse cx="181.3" cy="305.5" rx="0.76" ry="1.40" stroke-width="0.91" transform="rotate(35 181.3 305.5)"/><ellipse cx="182.7" cy="308.3" rx="0.80" ry="1.40" stroke-width="0.99" transform="rotate(35 182.7 308.3)"/><ellipse cx="184.7" cy="310.9" rx="0.83" ry="1.40" stroke-width="1.06" transform="rotate(35 184.7 310.9)"/><ellipse cx="187.3" cy="313.5" rx="0.87" ry="1.40" stroke-width="1.13" transform="rotate(35 187.3 313.5)"/><ellipse cx="190.5" cy="315.8" rx="0.90" ry="1.40" stroke-width="1.20" transform="rotate(33 190.5 315.8)"/><ellipse cx="194.3" cy="318.0" rx="0.99" ry="1.40" stroke-width="1.26" transform="rotate(27 194.3 318.0)"/><ellipse cx="198.5" cy="319.8" rx="1.10" ry="1.40" stroke-width="1.31" transform="rotate(21 198.5 319.8)"/><ellipse cx="203.2" cy="321.5" rx="1.20" ry="1.40" stroke-width="1.36" transform="rotate(17 203.2 321.5)"/><ellipse cx="208.2" cy="322.8" rx="1.28" ry="1.40" stroke-width="1.39" transform="rotate(13 208.2 322.8)"/><ellipse cx="213.6" cy="323.8" rx="1.34" ry="1.40" stroke-width="1.42" transform="rotate(9 213.6 323.8)"/><ellipse cx="219.1" cy="324.5" rx="1.38" ry="1.40" stroke-width="1.44" transform="rotate(5 219.1 324.5)"/><ellipse cx="224.8" cy="324.8" rx="1.40" ry="1.40" stroke-width="1.45" transform="rotate(2 224.8 324.8)"/><ellipse cx="230.4" cy="324.8" rx="1.40" ry="1.40" stroke-width="1.45" transform="rotate(-2 230.4 324.8)"/><ellipse cx="236.1" cy="324.5" rx="1.38" ry="1.40" stroke-width="1.44" transform="rotate(-5 236.1 324.5)"/><ellipse cx="241.6" cy="323.8" rx="1.34" ry="1.40" stroke-width="1.42" transform="rotate(-9 241.6 323.8)"/><ellipse cx="247.0" cy="322.8" rx="1.28" ry="1.40" stroke-width="1.39" transform="rotate(-13 247.0 322.8)"/><ellipse cx="252.0" cy="321.5" rx="1.20" ry="1.40" stroke-width="1.36" transform="rotate(-17 252.0 321.5)"/><ellipse cx="256.7" cy="319.8" rx="1.10" ry="1.40" stroke-width="1.31" transform="rotate(-21 256.7 319.8)"/><ellipse cx="260.9" cy="318.0" rx="0.99" ry="1.40" stroke-width="1.26" transform="rotate(-27 260.9 318.0)"/><ellipse cx="264.7" cy="315.8" rx="0.90" ry="1.40" stroke-width="1.20" transform="rotate(-33 264.7 315.8)"/><ellipse cx="267.9" cy="313.5" rx="0.87" ry="1.40" stroke-width="1.13" transform="rotate(-35 267.9 313.5)"/><ellipse cx="270.5" cy="310.9" rx="0.83" ry="1.40" stroke-width="1.06" transform="rotate(-35 270.5 310.9)"/><ellipse cx="272.5" cy="308.3" rx="0.80" ry="1.40" stroke-width="0.99" transform="rotate(-35 272.5 308.3)"/><ellipse cx="273.9" cy="305.5" rx="0.76" ry="1.40" stroke-width="0.91" transform="rotate(-35 273.9 305.5)"/><ellipse cx="274.5" cy="302.7" rx="0.72" ry="1.40" stroke-width="0.84" transform="rotate(-35 274.5 302.7)"/><ellipse cx="180.9" cy="308.1" rx="0.74" ry="1.40" stroke-width="0.87" transform="rotate(35 180.9 308.1)"/><ellipse cx="181.9" cy="310.9" rx="0.78" ry="1.40" stroke-width="0.95" transform="rotate(35 181.9 310.9)"/><ellipse cx="183.6" cy="313.6" rx="0.81" ry="1.40" stroke-width="1.03" transform="rotate(35 183.6 313.6)"/><ellipse cx="185.9" cy="316.2" rx="0.85" ry="1.40" stroke-width="1.10" transform="rotate(35 185.9 316.2)"/><ellipse cx="188.8" cy="318.7" rx="0.88" ry="1.40" stroke-width="1.17" transform="rotate(35 188.8 318.7)"/><ellipse cx="192.3" cy="320.9" rx="0.93" ry="1.40" stroke-width="1.23" transform="rotate(30 192.3 320.9)"/><ellipse cx="196.3" cy="322.9" rx="1.05" ry="1.40" stroke-width="1.29" transform="rotate(24 196.3 322.9)"/><ellipse cx="200.8" cy="324.7" rx="1.15" ry="1.40" stroke-width="1.33" transform="rotate(19 200.8 324.7)"/><ellipse cx="205.7" cy="326.2" rx="1.24" ry="1.40" stroke-width="1.38" transform="rotate(15 205.7 326.2)"/><ellipse cx="210.9" cy="327.3" rx="1.31" ry="1.40" stroke-width="1.41" transform="rotate(11 210.9 327.3)"/><ellipse cx="216.3" cy="328.2" rx="1.36" ry="1.40" stroke-width="1.43" transform="rotate(7 216.3 328.2)"/><ellipse cx="221.9" cy="328.7" rx="1.39" ry="1.40" stroke-width="1.45" transform="rotate(3 221.9 328.7)"/><ellipse cx="227.6" cy="328.9" rx="1.40" ry="1.40" stroke-width="1.45" transform="rotate(-0 227.6 328.9)"/><ellipse cx="233.3" cy="328.7" rx="1.39" ry="1.40" stroke-width="1.45" transform="rotate(-3 233.3 328.7)"/><ellipse cx="238.9" cy="328.2" rx="1.36" ry="1.40" stroke-width="1.43" transform="rotate(-7 238.9 328.2)"/><ellipse cx="244.3" cy="327.3" rx="1.31" ry="1.40" stroke-width="1.41" transform="rotate(-11 244.3 327.3)"/><ellipse cx="249.5" cy="326.2" rx="1.24" ry="1.40" stroke-width="1.38" transform="rotate(-15 249.5 326.2)"/><ellipse cx="254.4" cy="324.7" rx="1.15" ry="1.40" stroke-width="1.33" transform="rotate(-19 254.4 324.7)"/><ellipse cx="258.9" cy="322.9" rx="1.05" ry="1.40" stroke-width="1.29" transform="rotate(-24 258.9 322.9)"/><ellipse cx="262.9" cy="320.9" rx="0.93" ry="1.40" stroke-width="1.23" transform="rotate(-30 262.9 320.9)"/><ellipse cx="266.4" cy="318.7" rx="0.88" ry="1.40" stroke-width="1.17" transform="rotate(-35 266.4 318.7)"/><ellipse cx="269.3" cy="316.2" rx="0.85" ry="1.40" stroke-width="1.10" transform="rotate(-35 269.3 316.2)"/><ellipse cx="271.6" cy="313.6" rx="0.81" ry="1.40" stroke-width="1.03" transform="rotate(-35 271.6 313.6)"/><ellipse cx="273.3" cy="310.9" rx="0.78" ry="1.40" stroke-width="0.95" transform="rotate(-35 273.3 310.9)"/><ellipse cx="274.3" cy="308.1" rx="0.74" ry="1.40" stroke-width="0.87" transform="rotate(-35 274.3 308.1)"/><ellipse cx="180.7" cy="310.7" rx="0.72" ry="1.40" stroke-width="0.84" transform="rotate(35 180.7 310.7)"/><ellipse cx="181.3" cy="313.5" rx="0.76" ry="1.40" stroke-width="0.91" transform="rotate(35 181.3 313.5)"/><ellipse cx="182.7" cy="316.2" rx="0.80" ry="1.40" stroke-width="0.99" transform="rotate(35 182.7 316.2)"/><ellipse cx="184.7" cy="318.9" rx="0.83" ry="1.40" stroke-width="1.06" transform="rotate(35 184.7 318.9)"/><ellipse cx="187.3" cy="321.4" rx="0.87" ry="1.40" stroke-width="1.13" transform="rotate(35 187.3 321.4)"/><ellipse cx="190.5" cy="323.8" rx="0.90" ry="1.40" stroke-width="1.20" transform="rotate(33 190.5 323.8)"/><ellipse cx="194.3" cy="325.9" rx="0.99" ry="1.40" stroke-width="1.26" transform="rotate(27 194.3 325.9)"/><ellipse cx="198.5" cy="327.8" rx="1.10" ry="1.40" stroke-width="1.31" transform="rotate(21 198.5 327.8)"/><ellipse cx="203.2" cy="329.4" rx="1.20" ry="1.40" stroke-width="1.36" transform="rotate(17 203.2 329.4)"/><ellipse cx="208.2" cy="330.8" rx="1.28" ry="1.40" stroke-width="1.39" transform="rotate(13 208.2 330.8)"/><ellipse cx="213.6" cy="331.8" rx="1.34" ry="1.40" stroke-width="1.42" transform="rotate(9 213.6 331.8)"/><ellipse cx="219.1" cy="332.5" rx="1.38" ry="1.40" stroke-width="1.44" transform="rotate(5 219.1 332.5)"/><ellipse cx="224.8" cy="332.8" rx="1.40" ry="1.40" stroke-width="1.45" transform="rotate(2 224.8 332.8)"/><ellipse cx="230.4" cy="332.8" rx="1.40" ry="1.40" stroke-width="1.45" transform="rotate(-2 230.4 332.8)"/><ellipse cx="236.1" cy="332.5" rx="1.38" ry="1.40" stroke-width="1.44" transform="rotate(-5 236.1 332.5)"/><ellipse cx="241.6" cy="331.8" rx="1.34" ry="1.40" stroke-width="1.42" transform="rotate(-9 241.6 331.8)"/><ellipse cx="247.0" cy="330.8" rx="1.28" ry="1.40" stroke-width="1.39" transform="rotate(-13 247.0 330.8)"/><ellipse cx="252.0" cy="329.4" rx="1.20" ry="1.40" stroke-width="1.36" transform="rotate(-17 252.0 329.4)"/><ellipse cx="256.7" cy="327.8" rx="1.10" ry="1.40" stroke-width="1.31" transform="rotate(-21 256.7 327.8)"/><ellipse cx="260.9" cy="325.9" rx="0.99" ry="1.40" stroke-width="1.26" transform="rotate(-27 260.9 325.9)"/><ellipse cx="264.7" cy="323.8" rx="0.90" ry="1.40" stroke-width="1.20" transform="rotate(-33 264.7 323.8)"/><ellipse cx="267.9" cy="321.4" rx="0.87" ry="1.40" stroke-width="1.13" transform="rotate(-35 267.9 321.4)"/><ellipse cx="270.5" cy="318.9" rx="0.83" ry="1.40" stroke-width="1.06" transform="rotate(-35 270.5 318.9)"/><ellipse cx="272.5" cy="316.2" rx="0.80" ry="1.40" stroke-width="0.99" transform="rotate(-35 272.5 316.2)"/><ellipse cx="273.9" cy="313.5" rx="0.76" ry="1.40" stroke-width="0.91" transform="rotate(-35 273.9 313.5)"/><ellipse cx="274.5" cy="310.7" rx="0.72" ry="1.40" stroke-width="0.84" transform="rotate(-35 274.5 310.7)"/><ellipse cx="180.9" cy="316.1" rx="0.74" ry="1.40" stroke-width="0.87" transform="rotate(35 180.9 316.1)"/><ellipse cx="181.9" cy="318.9" rx="0.78" ry="1.40" stroke-width="0.95" transform="rotate(35 181.9 318.9)"/><ellipse cx="183.6" cy="321.6" rx="0.81" ry="1.40" stroke-width="1.03" transform="rotate(35 183.6 321.6)"/><ellipse cx="185.9" cy="324.2" rx="0.85" ry="1.40" stroke-width="1.10" transform="rotate(35 185.9 324.2)"/><ellipse cx="188.8" cy="326.6" rx="0.88" ry="1.40" stroke-width="1.17" transform="rotate(35 188.8 326.6)"/><ellipse cx="192.3" cy="328.9" rx="0.93" ry="1.40" stroke-width="1.23" transform="rotate(30 192.3 328.9)"/><ellipse cx="196.3" cy="330.9" rx="1.05" ry="1.40" stroke-width="1.29" transform="rotate(24 196.3 330.9)"/><ellipse cx="200.8" cy="332.7" rx="1.15" ry="1.40" stroke-width="1.33" transform="rotate(19 200.8 332.7)"/><ellipse cx="205.7" cy="334.1" rx="1.24" ry="1.40" stroke-width="1.38" transform="rotate(15 205.7 334.1)"/><ellipse cx="210.9" cy="335.3" rx="1.31" ry="1.40" stroke-width="1.41" transform="rotate(11 210.9 335.3)"/><ellipse cx="216.3" cy="336.2" rx="1.36" ry="1.40" stroke-width="1.43" transform="rotate(7 216.3 336.2)"/><ellipse cx="221.9" cy="336.7" rx="1.39" ry="1.40" stroke-width="1.45" transform="rotate(3 221.9 336.7)"/><ellipse cx="227.6" cy="336.9" rx="1.40" ry="1.40" stroke-width="1.45" transform="rotate(-0 227.6 336.9)"/><ellipse cx="233.3" cy="336.7" rx="1.39" ry="1.40" stroke-width="1.45" transform="rotate(-3 233.3 336.7)"/><ellipse cx="238.9" cy="336.2" rx="1.36" ry="1.40" stroke-width="1.43" transform="rotate(-7 238.9 336.2)"/><ellipse cx="244.3" cy="335.3" rx="1.31" ry="1.40" stroke-width="1.41" transform="rotate(-11 244.3 335.3)"/><ellipse cx="249.5" cy="334.1" rx="1.24" ry="1.40" stroke-width="1.38" transform="rotate(-15 249.5 334.1)"/><ellipse cx="254.4" cy="332.7" rx="1.15" ry="1.40" stroke-width="1.33" transform="rotate(-19 254.4 332.7)"/><ellipse cx="258.9" cy="330.9" rx="1.05" ry="1.40" stroke-width="1.29" transform="rotate(-24 258.9 330.9)"/><ellipse cx="262.9" cy="328.9" rx="0.93" ry="1.40" stroke-width="1.23" transform="rotate(-30 262.9 328.9)"/><ellipse cx="266.4" cy="326.6" rx="0.88" ry="1.40" stroke-width="1.17" transform="rotate(-35 266.4 326.6)"/><ellipse cx="269.3" cy="324.2" rx="0.85" ry="1.40" stroke-width="1.10" transform="rotate(-35 269.3 324.2)"/><ellipse cx="271.6" cy="321.6" rx="0.81" ry="1.40" stroke-width="1.03" transform="rotate(-35 271.6 321.6)"/><ellipse cx="273.3" cy="318.9" rx="0.78" ry="1.40" stroke-width="0.95" transform="rotate(-35 273.3 318.9)"/><ellipse cx="274.3" cy="316.1" rx="0.74" ry="1.40" stroke-width="0.87" transform="rotate(-35 274.3 316.1)"/><ellipse cx="180.7" cy="318.6" rx="0.72" ry="1.40" stroke-width="0.84" transform="rotate(35 180.7 318.6)"/><ellipse cx="181.3" cy="321.5" rx="0.76" ry="1.40" stroke-width="0.91" transform="rotate(35 181.3 321.5)"/><ellipse cx="182.7" cy="324.2" rx="0.80" ry="1.40" stroke-width="0.99" transform="rotate(35 182.7 324.2)"/><ellipse cx="184.7" cy="326.9" rx="0.83" ry="1.40" stroke-width="1.06" transform="rotate(35 184.7 326.9)"/><ellipse cx="187.3" cy="329.4" rx="0.87" ry="1.40" stroke-width="1.13" transform="rotate(35 187.3 329.4)"/><ellipse cx="190.5" cy="331.8" rx="0.90" ry="1.40" stroke-width="1.20" transform="rotate(33 190.5 331.8)"/><ellipse cx="194.3" cy="333.9" rx="0.99" ry="1.40" stroke-width="1.26" transform="rotate(27 194.3 333.9)"/><ellipse cx="198.5" cy="335.8" rx="1.10" ry="1.40" stroke-width="1.31" transform="rotate(21 198.5 335.8)"/><ellipse cx="203.2" cy="337.4" rx="1.20" ry="1.40" stroke-width="1.36" transform="rotate(17 203.2 337.4)"/><ellipse cx="208.2" cy="338.8" rx="1.28" ry="1.40" stroke-width="1.39" transform="rotate(13 208.2 338.8)"/><ellipse cx="213.6" cy="339.8" rx="1.34" ry="1.40" stroke-width="1.42" transform="rotate(9 213.6 339.8)"/><ellipse cx="219.1" cy="340.5" rx="1.38" ry="1.40" stroke-width="1.44" transform="rotate(5 219.1 340.5)"/><ellipse cx="224.8" cy="340.8" rx="1.40" ry="1.40" stroke-width="1.45" transform="rotate(2 224.8 340.8)"/><ellipse cx="230.4" cy="340.8" rx="1.40" ry="1.40" stroke-width="1.45" transform="rotate(-2 230.4 340.8)"/><ellipse cx="236.1" cy="340.5" rx="1.38" ry="1.40" stroke-width="1.44" transform="rotate(-5 236.1 340.5)"/><ellipse cx="241.6" cy="339.8" rx="1.34" ry="1.40" stroke-width="1.42" transform="rotate(-9 241.6 339.8)"/><ellipse cx="247.0" cy="338.8" rx="1.28" ry="1.40" stroke-width="1.39" transform="rotate(-13 247.0 338.8)"/><ellipse cx="252.0" cy="337.4" rx="1.20" ry="1.40" stroke-width="1.36" transform="rotate(-17 252.0 337.4)"/><ellipse cx="256.7" cy="335.8" rx="1.10" ry="1.40" stroke-width="1.31" transform="rotate(-21 256.7 335.8)"/><ellipse cx="260.9" cy="333.9" rx="0.99" ry="1.40" stroke-width="1.26" transform="rotate(-27 260.9 333.9)"/><ellipse cx="264.7" cy="331.8" rx="0.90" ry="1.40" stroke-width="1.20" transform="rotate(-33 264.7 331.8)"/><ellipse cx="267.9" cy="329.4" rx="0.87" ry="1.40" stroke-width="1.13" transform="rotate(-35 267.9 329.4)"/><ellipse cx="270.5" cy="326.9" rx="0.83" ry="1.40" stroke-width="1.06" transform="rotate(-35 270.5 326.9)"/><ellipse cx="272.5" cy="324.2" rx="0.80" ry="1.40" stroke-width="0.99" transform="rotate(-35 272.5 324.2)"/><ellipse cx="273.9" cy="321.5" rx="0.76" ry="1.40" stroke-width="0.91" transform="rotate(-35 273.9 321.5)"/><ellipse cx="274.5" cy="318.6" rx="0.72" ry="1.40" stroke-width="0.84" transform="rotate(-35 274.5 318.6)"/><ellipse cx="180.9" cy="324.0" rx="0.74" ry="1.40" stroke-width="0.87" transform="rotate(35 180.9 324.0)"/><ellipse cx="181.9" cy="326.8" rx="0.78" ry="1.40" stroke-width="0.95" transform="rotate(35 181.9 326.8)"/><ellipse cx="183.6" cy="329.6" rx="0.81" ry="1.40" stroke-width="1.03" transform="rotate(35 183.6 329.6)"/><ellipse cx="185.9" cy="332.2" rx="0.85" ry="1.40" stroke-width="1.10" transform="rotate(35 185.9 332.2)"/><ellipse cx="188.8" cy="334.6" rx="0.88" ry="1.40" stroke-width="1.17" transform="rotate(35 188.8 334.6)"/><ellipse cx="192.3" cy="336.9" rx="0.93" ry="1.40" stroke-width="1.23" transform="rotate(30 192.3 336.9)"/><ellipse cx="196.3" cy="338.9" rx="1.05" ry="1.40" stroke-width="1.29" transform="rotate(24 196.3 338.9)"/><ellipse cx="200.8" cy="340.6" rx="1.15" ry="1.40" stroke-width="1.33" transform="rotate(19 200.8 340.6)"/><ellipse cx="205.7" cy="342.1" rx="1.24" ry="1.40" stroke-width="1.38" transform="rotate(15 205.7 342.1)"/><ellipse cx="210.9" cy="343.3" rx="1.31" ry="1.40" stroke-width="1.41" transform="rotate(11 210.9 343.3)"/><ellipse cx="216.3" cy="344.1" rx="1.36" ry="1.40" stroke-width="1.43" transform="rotate(7 216.3 344.1)"/><ellipse cx="221.9" cy="344.7" rx="1.39" ry="1.40" stroke-width="1.45" transform="rotate(3 221.9 344.7)"/><ellipse cx="227.6" cy="344.8" rx="1.40" ry="1.40" stroke-width="1.45" transform="rotate(-0 227.6 344.8)"/><ellipse cx="233.3" cy="344.7" rx="1.39" ry="1.40" stroke-width="1.45" transform="rotate(-3 233.3 344.7)"/><ellipse cx="238.9" cy="344.1" rx="1.36" ry="1.40" stroke-width="1.43" transform="rotate(-7 238.9 344.1)"/><ellipse cx="244.3" cy="343.3" rx="1.31" ry="1.40" stroke-width="1.41" transform="rotate(-11 244.3 343.3)"/><ellipse cx="249.5" cy="342.1" rx="1.24" ry="1.40" stroke-width="1.38" transform="rotate(-15 249.5 342.1)"/><ellipse cx="254.4" cy="340.6" rx="1.15" ry="1.40" stroke-width="1.33" transform="rotate(-19 254.4 340.6)"/><ellipse cx="258.9" cy="338.9" rx="1.05" ry="1.40" stroke-width="1.29" transform="rotate(-24 258.9 338.9)"/><ellipse cx="262.9" cy="336.9" rx="0.93" ry="1.40" stroke-width="1.23" transform="rotate(-30 262.9 336.9)"/><ellipse cx="266.4" cy="334.6" rx="0.88" ry="1.40" stroke-width="1.17" transform="rotate(-35 266.4 334.6)"/><ellipse cx="269.3" cy="332.2" rx="0.85" ry="1.40" stroke-width="1.10" transform="rotate(-35 269.3 332.2)"/><ellipse cx="271.6" cy="329.6" rx="0.81" ry="1.40" stroke-width="1.03" transform="rotate(-35 271.6 329.6)"/><ellipse cx="273.3" cy="326.8" rx="0.78" ry="1.40" stroke-width="0.95" transform="rotate(-35 273.3 326.8)"/><ellipse cx="274.3" cy="324.0" rx="0.74" ry="1.40" stroke-width="0.87" transform="rotate(-35 274.3 324.0)"/><ellipse cx="180.7" cy="326.6" rx="0.72" ry="1.40" stroke-width="0.84" transform="rotate(35 180.7 326.6)"/><ellipse cx="181.3" cy="329.4" rx="0.76" ry="1.40" stroke-width="0.91" transform="rotate(35 181.3 329.4)"/><ellipse cx="182.7" cy="332.2" rx="0.80" ry="1.40" stroke-width="0.99" transform="rotate(35 182.7 332.2)"/><ellipse cx="184.7" cy="334.9" rx="0.83" ry="1.40" stroke-width="1.06" transform="rotate(35 184.7 334.9)"/><ellipse cx="187.3" cy="337.4" rx="0.87" ry="1.40" stroke-width="1.13" transform="rotate(35 187.3 337.4)"/><ellipse cx="190.5" cy="339.8" rx="0.90" ry="1.40" stroke-width="1.20" transform="rotate(33 190.5 339.8)"/><ellipse cx="194.3" cy="341.9" rx="0.99" ry="1.40" stroke-width="1.26" transform="rotate(27 194.3 341.9)"/><ellipse cx="198.5" cy="343.8" rx="1.10" ry="1.40" stroke-width="1.31" transform="rotate(21 198.5 343.8)"/><ellipse cx="203.2" cy="345.4" rx="1.20" ry="1.40" stroke-width="1.36" transform="rotate(17 203.2 345.4)"/><ellipse cx="208.2" cy="346.7" rx="1.28" ry="1.40" stroke-width="1.39" transform="rotate(13 208.2 346.7)"/><ellipse cx="213.6" cy="347.7" rx="1.34" ry="1.40" stroke-width="1.42" transform="rotate(9 213.6 347.7)"/><ellipse cx="219.1" cy="348.4" rx="1.38" ry="1.40" stroke-width="1.44" transform="rotate(5 219.1 348.4)"/><ellipse cx="224.8" cy="348.8" rx="1.40" ry="1.40" stroke-width="1.45" transform="rotate(2 224.8 348.8)"/><ellipse cx="230.4" cy="348.8" rx="1.40" ry="1.40" stroke-width="1.45" transform="rotate(-2 230.4 348.8)"/><ellipse cx="236.1" cy="348.4" rx="1.38" ry="1.40" stroke-width="1.44" transform="rotate(-5 236.1 348.4)"/><ellipse cx="241.6" cy="347.7" rx="1.34" ry="1.40" stroke-width="1.42" transform="rotate(-9 241.6 347.7)"/><ellipse cx="247.0" cy="346.7" rx="1.28" ry="1.40" stroke-width="1.39" transform="rotate(-13 247.0 346.7)"/><ellipse cx="252.0" cy="345.4" rx="1.20" ry="1.40" stroke-width="1.36" transform="rotate(-17 252.0 345.4)"/><ellipse cx="256.7" cy="343.8" rx="1.10" ry="1.40" stroke-width="1.31" transform="rotate(-21 256.7 343.8)"/><ellipse cx="260.9" cy="341.9" rx="0.99" ry="1.40" stroke-width="1.26" transform="rotate(-27 260.9 341.9)"/><ellipse cx="264.7" cy="339.8" rx="0.90" ry="1.40" stroke-width="1.20" transform="rotate(-33 264.7 339.8)"/><ellipse cx="267.9" cy="337.4" rx="0.87" ry="1.40" stroke-width="1.13" transform="rotate(-35 267.9 337.4)"/><ellipse cx="270.5" cy="334.9" rx="0.83" ry="1.40" stroke-width="1.06" transform="rotate(-35 270.5 334.9)"/><ellipse cx="272.5" cy="332.2" rx="0.80" ry="1.40" stroke-width="0.99" transform="rotate(-35 272.5 332.2)"/><ellipse cx="273.9" cy="329.4" rx="0.76" ry="1.40" stroke-width="0.91" transform="rotate(-35 273.9 329.4)"/><ellipse cx="274.5" cy="326.6" rx="0.72" ry="1.40" stroke-width="0.84" transform="rotate(-35 274.5 326.6)"/><ellipse cx="180.9" cy="332.0" rx="0.74" ry="1.40" stroke-width="0.87" transform="rotate(35 180.9 332.0)"/><ellipse cx="181.9" cy="334.8" rx="0.78" ry="1.40" stroke-width="0.95" transform="rotate(35 181.9 334.8)"/><ellipse cx="183.6" cy="337.5" rx="0.81" ry="1.40" stroke-width="1.03" transform="rotate(35 183.6 337.5)"/><ellipse cx="185.9" cy="340.1" rx="0.85" ry="1.40" stroke-width="1.10" transform="rotate(35 185.9 340.1)"/><ellipse cx="188.8" cy="342.6" rx="0.88" ry="1.40" stroke-width="1.17" transform="rotate(35 188.8 342.6)"/><ellipse cx="192.3" cy="344.8" rx="0.93" ry="1.40" stroke-width="1.23" transform="rotate(30 192.3 344.8)"/><ellipse cx="196.3" cy="346.9" rx="1.05" ry="1.40" stroke-width="1.29" transform="rotate(24 196.3 346.9)"/><ellipse cx="200.8" cy="348.6" rx="1.15" ry="1.40" stroke-width="1.33" transform="rotate(19 200.8 348.6)"/><ellipse cx="205.7" cy="350.1" rx="1.24" ry="1.40" stroke-width="1.38" transform="rotate(15 205.7 350.1)"/><ellipse cx="210.9" cy="351.3" rx="1.31" ry="1.40" stroke-width="1.41" transform="rotate(11 210.9 351.3)"/><ellipse cx="216.3" cy="352.1" rx="1.36" ry="1.40" stroke-width="1.43" transform="rotate(7 216.3 352.1)"/><ellipse cx="221.9" cy="352.6" rx="1.39" ry="1.40" stroke-width="1.45" transform="rotate(3 221.9 352.6)"/><ellipse cx="227.6" cy="352.8" rx="1.40" ry="1.40" stroke-width="1.45" transform="rotate(-0 227.6 352.8)"/><ellipse cx="233.3" cy="352.6" rx="1.39" ry="1.40" stroke-width="1.45" transform="rotate(-3 233.3 352.6)"/><ellipse cx="238.9" cy="352.1" rx="1.36" ry="1.40" stroke-width="1.43" transform="rotate(-7 238.9 352.1)"/><ellipse cx="244.3" cy="351.3" rx="1.31" ry="1.40" stroke-width="1.41" transform="rotate(-11 244.3 351.3)"/><ellipse cx="249.5" cy="350.1" rx="1.24" ry="1.40" stroke-width="1.38" transform="rotate(-15 249.5 350.1)"/><ellipse cx="254.4" cy="348.6" rx="1.15" ry="1.40" stroke-width="1.33" transform="rotate(-19 254.4 348.6)"/><ellipse cx="258.9" cy="346.9" rx="1.05" ry="1.40" stroke-width="1.29" transform="rotate(-24 258.9 346.9)"/><ellipse cx="262.9" cy="344.8" rx="0.93" ry="1.40" stroke-width="1.23" transform="rotate(-30 262.9 344.8)"/><ellipse cx="266.4" cy="342.6" rx="0.88" ry="1.40" stroke-width="1.17" transform="rotate(-35 266.4 342.6)"/><ellipse cx="269.3" cy="340.1" rx="0.85" ry="1.40" stroke-width="1.10" transform="rotate(-35 269.3 340.1)"/><ellipse cx="271.6" cy="337.5" rx="0.81" ry="1.40" stroke-width="1.03" transform="rotate(-35 271.6 337.5)"/><ellipse cx="273.3" cy="334.8" rx="0.78" ry="1.40" stroke-width="0.95" transform="rotate(-35 273.3 334.8)"/><ellipse cx="274.3" cy="332.0" rx="0.74" ry="1.40" stroke-width="0.87" transform="rotate(-35 274.3 332.0)"/><ellipse cx="180.7" cy="334.6" rx="0.72" ry="1.40" stroke-width="0.84" transform="rotate(35 180.7 334.6)"/><ellipse cx="181.3" cy="337.4" rx="0.76" ry="1.40" stroke-width="0.91" transform="rotate(35 181.3 337.4)"/><ellipse cx="182.7" cy="340.2" rx="0.80" ry="1.40" stroke-width="0.99" transform="rotate(35 182.7 340.2)"/><ellipse cx="184.7" cy="342.9" rx="0.83" ry="1.40" stroke-width="1.06" transform="rotate(35 184.7 342.9)"/><ellipse cx="187.3" cy="345.4" rx="0.87" ry="1.40" stroke-width="1.13" transform="rotate(35 187.3 345.4)"/><ellipse cx="190.5" cy="347.7" rx="0.90" ry="1.40" stroke-width="1.20" transform="rotate(33 190.5 347.7)"/><ellipse cx="194.3" cy="349.9" rx="0.99" ry="1.40" stroke-width="1.26" transform="rotate(27 194.3 349.9)"/><ellipse cx="198.5" cy="351.8" rx="1.10" ry="1.40" stroke-width="1.31" transform="rotate(21 198.5 351.8)"/><ellipse cx="203.2" cy="353.4" rx="1.20" ry="1.40" stroke-width="1.36" transform="rotate(17 203.2 353.4)"/><ellipse cx="208.2" cy="354.7" rx="1.28" ry="1.40" stroke-width="1.39" transform="rotate(13 208.2 354.7)"/><ellipse cx="213.6" cy="355.7" rx="1.34" ry="1.40" stroke-width="1.42" transform="rotate(9 213.6 355.7)"/><ellipse cx="219.1" cy="356.4" rx="1.38" ry="1.40" stroke-width="1.44" transform="rotate(5 219.1 356.4)"/><ellipse cx="224.8" cy="356.8" rx="1.40" ry="1.40" stroke-width="1.45" transform="rotate(2 224.8 356.8)"/><ellipse cx="230.4" cy="356.8" rx="1.40" ry="1.40" stroke-width="1.45" transform="rotate(-2 230.4 356.8)"/><ellipse cx="236.1" cy="356.4" rx="1.38" ry="1.40" stroke-width="1.44" transform="rotate(-5 236.1 356.4)"/><ellipse cx="241.6" cy="355.7" rx="1.34" ry="1.40" stroke-width="1.42" transform="rotate(-9 241.6 355.7)"/><ellipse cx="247.0" cy="354.7" rx="1.28" ry="1.40" stroke-width="1.39" transform="rotate(-13 247.0 354.7)"/><ellipse cx="252.0" cy="353.4" rx="1.20" ry="1.40" stroke-width="1.36" transform="rotate(-17 252.0 353.4)"/><ellipse cx="256.7" cy="351.8" rx="1.10" ry="1.40" stroke-width="1.31" transform="rotate(-21 256.7 351.8)"/><ellipse cx="260.9" cy="349.9" rx="0.99" ry="1.40" stroke-width="1.26" transform="rotate(-27 260.9 349.9)"/><ellipse cx="264.7" cy="347.7" rx="0.90" ry="1.40" stroke-width="1.20" transform="rotate(-33 264.7 347.7)"/><ellipse cx="267.9" cy="345.4" rx="0.87" ry="1.40" stroke-width="1.13" transform="rotate(-35 267.9 345.4)"/><ellipse cx="270.5" cy="342.9" rx="0.83" ry="1.40" stroke-width="1.06" transform="rotate(-35 270.5 342.9)"/><ellipse cx="272.5" cy="340.2" rx="0.80" ry="1.40" stroke-width="0.99" transform="rotate(-35 272.5 340.2)"/><ellipse cx="273.9" cy="337.4" rx="0.76" ry="1.40" stroke-width="0.91" transform="rotate(-35 273.9 337.4)"/><ellipse cx="274.5" cy="334.6" rx="0.72" ry="1.40" stroke-width="0.84" transform="rotate(-35 274.5 334.6)"/></g>
<ellipse cx="227.6" cy="252.5" rx="47.0" ry="23.5" fill="#fff" stroke="#111" stroke-width="1.9"/>
<g fill="#fff" stroke="#111" stroke-width="1.3"><ellipse cx="183.6" cy="252.6" rx="0.50" ry="1.9"/><ellipse cx="184.7" cy="250.0" rx="0.51" ry="1.9"/><ellipse cx="186.4" cy="247.6" rx="0.74" ry="1.9"/><ellipse cx="188.6" cy="245.2" rx="0.96" ry="1.9"/><ellipse cx="191.4" cy="243.0" rx="1.16" ry="1.9"/><ellipse cx="194.7" cy="240.9" rx="1.34" ry="1.9"/><ellipse cx="198.5" cy="239.1" rx="1.51" ry="1.9"/><ellipse cx="202.7" cy="237.5" rx="1.66" ry="1.9"/><ellipse cx="207.2" cy="236.2" rx="1.78" ry="1.9"/><ellipse cx="212.1" cy="235.1" rx="1.87" ry="1.9"/><ellipse cx="217.1" cy="234.3" rx="1.94" ry="1.9"/><ellipse cx="222.3" cy="233.9" rx="1.99" ry="1.9"/><ellipse cx="227.6" cy="233.7" rx="2.00" ry="1.9"/><ellipse cx="232.9" cy="233.9" rx="1.99" ry="1.9"/><ellipse cx="238.1" cy="234.3" rx="1.94" ry="1.9"/><ellipse cx="243.1" cy="235.1" rx="1.87" ry="1.9"/><ellipse cx="248.0" cy="236.2" rx="1.78" ry="1.9"/><ellipse cx="252.5" cy="237.5" rx="1.66" ry="1.9"/><ellipse cx="256.7" cy="239.1" rx="1.51" ry="1.9"/><ellipse cx="260.5" cy="240.9" rx="1.34" ry="1.9"/><ellipse cx="263.8" cy="243.0" rx="1.16" ry="1.9"/><ellipse cx="266.6" cy="245.2" rx="0.96" ry="1.9"/><ellipse cx="268.8" cy="247.6" rx="0.74" ry="1.9"/><ellipse cx="270.5" cy="250.0" rx="0.51" ry="1.9"/><ellipse cx="271.6" cy="252.6" rx="0.50" ry="1.9"/><ellipse cx="184.1" cy="255.6" rx="0.50" ry="1.9"/><ellipse cx="185.5" cy="253.1" rx="0.63" ry="1.9"/><ellipse cx="187.4" cy="250.7" rx="0.85" ry="1.9"/><ellipse cx="189.9" cy="248.4" rx="1.06" ry="1.9"/><ellipse cx="193.0" cy="246.2" rx="1.25" ry="1.9"/><ellipse cx="196.5" cy="244.3" rx="1.43" ry="1.9"/><ellipse cx="200.5" cy="242.6" rx="1.59" ry="1.9"/><ellipse cx="204.9" cy="241.1" rx="1.72" ry="1.9"/><ellipse cx="209.6" cy="239.9" rx="1.83" ry="1.9"/><ellipse cx="214.6" cy="239.0" rx="1.91" ry="1.9"/><ellipse cx="219.7" cy="238.4" rx="1.97" ry="1.9"/><ellipse cx="225.0" cy="238.0" rx="2.00" ry="1.9"/><ellipse cx="230.2" cy="238.0" rx="2.00" ry="1.9"/><ellipse cx="235.5" cy="238.4" rx="1.97" ry="1.9"/><ellipse cx="240.6" cy="239.0" rx="1.91" ry="1.9"/><ellipse cx="245.6" cy="239.9" rx="1.83" ry="1.9"/><ellipse cx="250.3" cy="241.1" rx="1.72" ry="1.9"/><ellipse cx="254.7" cy="242.6" rx="1.59" ry="1.9"/><ellipse cx="258.7" cy="244.3" rx="1.43" ry="1.9"/><ellipse cx="262.2" cy="246.2" rx="1.25" ry="1.9"/><ellipse cx="265.3" cy="248.4" rx="1.06" ry="1.9"/><ellipse cx="267.8" cy="250.7" rx="0.85" ry="1.9"/><ellipse cx="269.7" cy="253.1" rx="0.63" ry="1.9"/><ellipse cx="271.1" cy="255.6" rx="0.50" ry="1.9"/></g>
<path d="M181.1,252.5 A46.5,23.0 0 0 0 274.1,252.5" fill="none" stroke="#111" stroke-width="2.0" />
<ellipse cx="228.4" cy="255.8" rx="41.2" ry="17.6" fill="#fff" stroke="#111" stroke-width="1.2"/>
<path d="M188.5,260 A41.2,17.6 0 0 0 268.3,260" fill="none" stroke="#111" stroke-width="2.2" />
<ellipse cx="228.4" cy="257.2" rx="13.8" ry="5.4" fill="#fff" stroke="#111" stroke-width="1.5"/>
<ellipse cx="228.4" cy="258.0" rx="10.8" ry="3.9" fill="#fff" stroke="#111" stroke-width="1.4"/>
<path d="M219.5,258 L226,256 L231,259.2 L237.5,257 M221.5,260.6 L228,259 L234.5,261" fill="none" stroke="#111" stroke-width="1.5" />
<ellipse cx="224.3" cy="258.4" rx="2.4" ry="1.3" fill="#111" stroke="#111" stroke-width="0.5"/>
<ellipse cx="233.2" cy="259.0" rx="2.4" ry="1.3" fill="#111" stroke="#111" stroke-width="0.5"/>
<ellipse cx="277.5" cy="359.0" rx="10.5" ry="4.2" fill="#fff" stroke="#111" stroke-width="1.1"/>
<ellipse cx="277.5" cy="357.3" rx="10.5" ry="4.2" fill="#fff" stroke="#111" stroke-width="1.1"/>
<circle cx="269.5" cy="359" r="1" fill="#111"/><circle cx="286" cy="355.5" r="1" fill="#111"/>
<path d="M271.5,347 L271.5,356.5 A6,2.2 0 0 0 283.5,356.5 L283.5,347 C283.5,345 281,343.5 279.5,343 L279,341 L276,341 L275.5,343 C273.5,343.5 271.5,345 271.5,347Z" fill="#fff" stroke="#111" stroke-width="1.1" />
<path d="M271.5,352.5 A6,2.2 0 0 0 283.5,352.5" fill="none" stroke="#111" stroke-width="0.9" />
<path d="M270.8,363.0 L270.8,368.5 L275.6,368.5 L275.6,363.5Z" fill="#fff" stroke="#111" stroke-width="1.0" />
<path d="M277.5,342 C277.5,337 279,334 283,331.8 L395,277" fill="none" stroke="#111" stroke-width="5.6" />
<path d="M277.5,342 C277.5,337 279,334 283,331.8 L395,277" fill="none" stroke="#fff" stroke-width="3.1" />
<path d="M342.6,300.6 L345.1,299.3 L345.7,301.7 L343.2,303.0Z" fill="#111" stroke="#111" stroke-width="0.5" />
<path d="M567.5,399 L567.5,404.5 L570,408 L578.5,401 L578.5,393 Z" fill="#fff" stroke="#111" stroke-width="1.0" />
<path d="M567.5,404.5 L576.5,397.5" fill="none" stroke="#111" stroke-width="0.9" />
<path d="M515.5,451 L515.5,457 L518.5,460.5 L527,454 L527,444 Z" fill="#fff" stroke="#111" stroke-width="1.0" />
<path d="M515.5,457 L524.5,450" fill="none" stroke="#111" stroke-width="0.9" />
<path d="M508.0,394.0 L592.0,311.0 L593.5,319.0 L597.6,326.0 L597.6,370.0 L594.0,373.2 L594.0,381.5 L512.0,453.5 L512.0,463.0 L508.5,463.5Z" fill="#fff" stroke="#111" stroke-width="1.3" />
<path d="M322.5,343.8 L407.5,261.0 L590.0,310.5 L592.0,311.5 L508.0,394.0Z" fill="#fff" stroke="#111" stroke-width="1.4" />
<line x1="323.8" y1="344.6" x2="408.0" y2="262.4" stroke="#111" stroke-width="0.9"/>
<line x1="510.5" y1="396.5" x2="593.3" y2="318.5" stroke="#111" stroke-width="1.1"/>
<line x1="511.5" y1="406.5" x2="593.8" y2="326.0" stroke="#111" stroke-width="2.5"/>
<line x1="593.5" y1="326.0" x2="597.6" y2="326.0" stroke="#111" stroke-width="1.1"/>
<line x1="512.0" y1="427.5" x2="597.8" y2="344.2" stroke="#111" stroke-width="1.0"/>
<line x1="512.0" y1="430.0" x2="597.8" y2="346.6" stroke="#111" stroke-width="1.7"/>
<line x1="512.0" y1="448.3" x2="594.0" y2="374.3" stroke="#111" stroke-width="1.2"/>
<path d="M320.6,345.8 L322.5,343.8 L508,394 L508.5,463.8 L506,463.4 L327,415.9 C322.5,414.5 320.6,412 320.6,408 Z" fill="#fff" stroke="#111" stroke-width="1.3" />
<path d="M323.2,352 L323.2,407 C323.2,410.5 324.5,412.4 327.5,413.3 L505.5,460.8" fill="none" stroke="#111" stroke-width="1.0" />
<path d="M325.2,400 L325.2,406.5 C325.2,408.6 326,409.8 328,410.4 L505,456.4" fill="none" stroke="#111" stroke-width="0.9" />
<path d="M327,348 L505,396.5 L505,452.6 L330,407.2 C328,406.6 327,405.5 327,403.5 Z" fill="none" stroke="#111" stroke-width="1.0" />
<path d="M505.0,408.0 L511.5,403.8 L511.5,451.0 L505.0,455.2Z" fill="#fff" stroke="#111" stroke-width="1.1" />
<line x1="505.0" y1="427.5" x2="511.5" y2="423.6" stroke="#111" stroke-width="0.9"/>
<line x1="505.0" y1="433.5" x2="511.5" y2="429.6" stroke="#111" stroke-width="0.9"/>
<path d="M318.8,355.0 L327.3,357.0 L327.3,403.0 L318.8,401.0Z" fill="#fff" stroke="#111" stroke-width="1.0" />
<line x1="321.0" y1="356.0" x2="321.0" y2="401.5" stroke="#111" stroke-width="0.8"/>
<line x1="318.8" y1="375.8" x2="327.3" y2="377.8" stroke="#111" stroke-width="0.9"/>
<line x1="318.8" y1="381.5" x2="327.3" y2="383.5" stroke="#111" stroke-width="0.9"/>
<path d="M337.3,356.0 L340.5,353.0 L449.8,382.3 L448.0,437.0 L444.6,438.6 L337.3,410.3Z" fill="#fff" stroke="#111" stroke-width="1.3" />
<path d="M337.3,356.0 L445.6,384.6 L444.6,438.6 L337.3,410.3Z" fill="#fff" stroke="#111" stroke-width="1.4" />
<line x1="445.6" y1="384.6" x2="449.8" y2="382.3" stroke="#111" stroke-width="1.1"/>
<line x1="338.5" y1="357.2" x2="445.3" y2="385.6" stroke="#111" stroke-width="1.8"/>
<line x1="337.8" y1="356.5" x2="337.8" y2="410.0" stroke="#111" stroke-width="1.4"/>
<line x1="338.3" y1="409.6" x2="407" y2="427.8" stroke="#111" stroke-width="2.0" stroke-dasharray="2.4 0.7"/>
<line x1="407.6" y1="376.5" x2="406.3" y2="428.5" stroke="#111" stroke-width="1.2"/>
<path d="M348.0,368.3 L399.6,381.5 L399.6,396.2 L348.0,385.0Z" fill="#fff" stroke="#111" stroke-width="1.0" />
<path d="M343.8,366.0 L348.0,367.0 L348.0,369.6 L343.8,368.6Z" fill="#111" stroke="#111" stroke-width="0.5" />
<path d="M363.8,392.5 L399.6,401.0 L399.6,410.5 L363.8,402.0Z" fill="#fff" stroke="#111" stroke-width="1.0" />
<line x1="359.5" y1="390.2" x2="399.6" y2="399.8" stroke="#111" stroke-width="2.0"/>
<path d="M358.5,388.7 L363.0,389.8 L363.0,392.8 L358.5,391.6Z" fill="#111" stroke="#111" stroke-width="0.5" />
<ellipse cx="417.4" cy="390.3" rx="5.8" ry="3.8" fill="#fff" stroke="#111" stroke-width="1.3" transform="rotate(15 417.4 390.3)"/>
<ellipse cx="417.4" cy="390.3" rx="3.9" ry="2.4" fill="#fff" stroke="#111" stroke-width="0.7" transform="rotate(15 417.4 390.3)"/>
<ellipse cx="433.2" cy="394.6" rx="5.8" ry="3.8" fill="#fff" stroke="#111" stroke-width="1.3" transform="rotate(15 433.2 394.6)"/>
<ellipse cx="433.2" cy="394.6" rx="3.9" ry="2.4" fill="#fff" stroke="#111" stroke-width="0.7" transform="rotate(15 433.2 394.6)"/>
<ellipse cx="417.4" cy="404.1" rx="5.8" ry="3.8" fill="#fff" stroke="#111" stroke-width="1.3" transform="rotate(15 417.4 404.1)"/>
<ellipse cx="417.4" cy="404.1" rx="3.9" ry="2.4" fill="#fff" stroke="#111" stroke-width="0.7" transform="rotate(15 417.4 404.1)"/>
<ellipse cx="417.4" cy="417.8" rx="5.8" ry="3.8" fill="#fff" stroke="#111" stroke-width="1.3" transform="rotate(15 417.4 417.8)"/>
<ellipse cx="417.4" cy="417.8" rx="3.9" ry="2.4" fill="#fff" stroke="#111" stroke-width="0.7" transform="rotate(15 417.4 417.8)"/>
<path d="M419.2,389.2 L415.8,390.3 L419.2,392.2 Z" fill="#111" stroke="#111" stroke-width="0.5" />
<path d="M431.5,393 L435,395 L431.5,396.8 Z M435.4,393.3 L435.4,396.6" fill="#111" stroke="#111" stroke-width="0.8" />
<path d="M417.5,402.2 L415.2,405.2 L419.9,405.8 Z" fill="none" stroke="#111" stroke-width="0.9" />
<path d="M415.2,416.5 L419.9,417.6 L417.2,419.9 Z" fill="none" stroke="#111" stroke-width="0.9" />
<circle cx="431.7" cy="415" r="1.2" fill="#111"/>
<path d="M468.6,423.6 L492.5,429.2 L492.5,446.0 L468.6,441.0Z" fill="#fff" stroke="#111" stroke-width="1.6" />
<path d="M472.2,427.2 L481.3,431.8 L485.3,430.0 L488.2,431.3 L488.2,444.2 L472.2,439.2Z" fill="#fff" stroke="#111" stroke-width="1.1" />
<line x1="481.3" y1="431.8" x2="480.6" y2="442.0" stroke="#111" stroke-width="1.0"/>
<line x1="485.3" y1="430.0" x2="485.0" y2="443.2" stroke="#111" stroke-width="0.8"/>
<text transform="matrix(1,0.265,0,1,465.4,405.6)" font-family="'Liberation Sans','Noto Sans CJK SC',sans-serif" font-size="6.3" font-weight="900" fill="#111" stroke="#111" stroke-width="0.5" textLength="32.5" lengthAdjust="spacingAndGlyphs">温度控制仪</text>
<path d="M301,66 C306,65 309,69 308.5,75 C308,81 305,85 301,85Z" fill="#fff" stroke="#111" stroke-width="1.0" />
<path d="M301,70 C304,70 305.5,73 305,76 C304.5,80 303,82 301,82" fill="none" stroke="#111" stroke-width="0.9" />
<line x1="302.4" y1="62" x2="302.4" y2="92" stroke="#111" stroke-width="2" stroke-dasharray="1.3 1.1"/>
<path d="M287.3,100.2 L304.8,80.8 L316.7,84.0 L316.7,96.0 L312.3,96.5 L312.3,131.5 L296.5,144.8 L287.3,141.3Z" fill="#fff" stroke="#111" stroke-width="1.2" />
<path d="M289.6,99.6 L305.6,82.9 L314.6,85.4 L297.2,101.6Z" fill="#fff" stroke="#111" stroke-width="0.9" />
<line x1="305.6" y1="82.9" x2="305.6" y2="91.0" stroke="#111" stroke-width="0.8"/>
<line x1="305.6" y1="91.0" x2="300.0" y2="97.5" stroke="#111" stroke-width="0.8"/>
<line x1="314.6" y1="85.4" x2="314.6" y2="90.0" stroke="#111" stroke-width="0.8"/>
<path d="M287.3,32 L287.3,95.6 A6.7,2.6 0 0 0 300.7,95.6 L300.7,32Z" fill="#fff" stroke="#111" stroke-width="1.1" />
<path d="M287.3,100.2 L296.7,103.6 L316.7,84.0" fill="none" stroke="#111" stroke-width="1.2" />
<path d="M296.7,103.6 L296.7,144.5" fill="none" stroke="#111" stroke-width="1.1" />
<line x1="289.6" y1="99.6" x2="297.2" y2="101.6" stroke="#111" stroke-width="0.9"/>
<ellipse cx="297.2" cy="26.6" rx="2.3" ry="1.2" fill="#fff" stroke="#111" stroke-width="0.8"/>
<path d="M294.9,26.6 L294.9,29 L299.5,29 L299.5,26.6" fill="#fff" stroke="#111" stroke-width="0.8" />
<ellipse cx="294.0" cy="32.0" rx="6.7" ry="3.4" fill="#fff" stroke="#111" stroke-width="1.1"/>
<path d="M287.3,36.5 A6.7,3.4 0 0 0 300.7,36.5" fill="none" stroke="#111" stroke-width="0.9" />
<path d="M287.8,55.0 L289.8,55.5 L289.8,59.0 L287.8,58.7Z" fill="#fff" stroke="#111" stroke-width="0.8" />
<path d="M319.2,101.0 L328.8,100.4 L328.8,132.0 L319.2,131.2 A6.8,15.0 0 0 1 319.2,101.0Z" fill="#111" stroke="#111" stroke-width="1.0" transform="rotate(9 328.8 116.2)"/>
<g stroke="#fff" stroke-width="1.0" stroke-linecap="butt" transform="rotate(9 328.8 116.2)"><line x1="316.2" y1="105.6" x2="324.1" y2="103.6"/><line x1="315.0" y1="108.5" x2="322.9" y2="106.5"/><line x1="314.3" y1="111.4" x2="322.1" y2="109.4"/><line x1="313.9" y1="114.3" x2="321.7" y2="112.3"/><line x1="313.8" y1="117.2" x2="321.6" y2="115.2"/><line x1="313.9" y1="120.1" x2="321.7" y2="118.1"/><line x1="314.3" y1="123.0" x2="322.1" y2="121.0"/><line x1="315.0" y1="125.9" x2="322.9" y2="123.9"/><line x1="316.2" y1="128.8" x2="324.1" y2="126.8"/></g>
<ellipse cx="328.8" cy="116.2" rx="7.0" ry="15.8" fill="#fff" stroke="#111" stroke-width="1.3" transform="rotate(9 328.8 116.2)"/>
<path d="M242.5,208 C246,205 251,205.5 250.5,209.5 C250,214 246,219 244.5,227 L242,227 Z" fill="#fff" stroke="#111" stroke-width="1.0" />
<path d="M244.5,214 C246,211 248.5,210 249.5,210.5" fill="none" stroke="#111" stroke-width="0.8" />
<path d="M213.4,203.0 L217.5,204.0 L217.5,252.0 L213.4,251.5Z" fill="#fff" stroke="#111" stroke-width="1.4" />
<path d="M237.2,205.0 L241.4,206.0 L241.4,258.5 L237.2,258.0Z" fill="#fff" stroke="#111" stroke-width="1.4" />
<path d="M211.3,251.3 L227.5,248 M211.6,248.8 L211.6,253.5" fill="none" stroke="#111" stroke-width="1.5" />
<path d="M236,259.6 L243.5,259.6" fill="none" stroke="#111" stroke-width="1.4" />
<path d="M225.2,212 C225.2,209 230.2,209 230.2,212 L229.6,217 L226,217 Z" fill="#111" stroke="#111" stroke-width="1.0" />
<path d="M227.4,217 L226.3,232 L225.8,247" fill="none" stroke="#111" stroke-width="1.6" />
<path d="M226.2,221.5 L228,225.5 L226.2,229.5" fill="none" stroke="#111" stroke-width="1.6" />
<path d="M235.6,213.5 L227.2,246.7" fill="none" stroke="#111" stroke-width="1.2" />
<circle cx="234.9" cy="229" r="1.2" fill="#111"/>
<path d="M232.8,207.2 L287.0,156.0 L287.0,28.0 L246.0,68.0Z" fill="#fff" stroke="#111" stroke-width="1.3" />
<path d="M262.5,156.3 L277.5,142.6 L278.0,154.0 L263.0,167.6Z" fill="#fff" stroke="#111" stroke-width="1.0" />
<ellipse cx="276.9" cy="163.6" rx="1.2" ry="1.6" fill="#111" stroke="#111" stroke-width="0.4"/>
<ellipse cx="252.5" cy="186.6" rx="1.2" ry="1.6" fill="#111" stroke="#111" stroke-width="0.4"/>
<path d="M280.8,33.0 L280.8,162.0" fill="none" stroke="#111" stroke-width="1.2" />
<path d="M286.8,28.0 L286.8,156.0" fill="none" stroke="#111" stroke-width="1.2" />
<line x1="281.5" y1="160.0" x2="281.5" y2="200.0" stroke="#111" stroke-width="1.4"/>
<path d="M174.5,50.0 L212.5,10.5 L215.5,8.0 L285.3,26.8 L286.8,28.0 L246.0,68.0Z" fill="#fff" stroke="#111" stroke-width="1.3" />
<line x1="210.2" y1="13.0" x2="281.3" y2="32.3" stroke="#111" stroke-width="1.0"/>
<line x1="246.0" y1="68.0" x2="281.3" y2="32.3" stroke="#111" stroke-width="1.3"/>
<line x1="281.3" y1="32.3" x2="286.8" y2="28.0" stroke="#111" stroke-width="1.0"/>
<ellipse cx="237.0" cy="30.4" rx="10.6" ry="6.2" fill="#fff" stroke="#111" stroke-width="1.5"/>
<ellipse cx="237.0" cy="30.1" rx="7.8" ry="4.4" fill="#fff" stroke="#111" stroke-width="1.0"/>
<ellipse cx="237.0" cy="29.9" rx="4.6" ry="2.6" fill="#fff" stroke="#111" stroke-width="0.9"/>
<ellipse cx="237.0" cy="29.8" rx="1.8" ry="1.0" fill="#ccc" stroke="#111" stroke-width="0.7"/>
<path d="M174.5,50.0 L246.0,68.0 L232.8,207.2 L161.3,189.0Z" fill="#fff" stroke="#111" stroke-width="1.4" />
<path d="M161.6,182.6 L231.4,200.6" fill="none" stroke="#111" stroke-width="1.2" />
<path d="M178.0,58.0 L239.5,74.5 L228.7,198.5 L165.0,181.3Z" fill="none" stroke="#111" stroke-width="1.1" />
<path d="M184.3,73.0 L230.0,87.0 L227.0,103.0 L182.0,90.0Z" fill="#fff" stroke="#111" stroke-width="1.9" />
<line x1="184.6" y1="73.8" x2="230.0" y2="87.8" stroke="#111" stroke-width="1.0"/>
<ellipse cx="208.0" cy="69.6" rx="1.5" ry="1.8" fill="#fff" stroke="#111" stroke-width="0.9"/>
<circle cx="181.2" cy="114" r="1.1" fill="#111"/>
<text transform="matrix(0.975,0.22,-0.25,0.97,179.8,103.6)" font-family="'Liberation Serif',serif" font-size="11.5" font-weight="bold" font-style="italic" fill="#111" stroke="#111" stroke-width="0.6" textLength="28.5" lengthAdjust="spacingAndGlyphs">SNB-2</text>
<text transform="matrix(0.96,0.27,-0.1,0.99,200.5,116.8)" font-family="'Liberation Sans','Noto Sans CJK SC',sans-serif" font-size="5.4" font-weight="900" fill="#111" stroke="#111" stroke-width="0.4" textLength="27.5" lengthAdjust="spacingAndGlyphs">数字式粘度计</text>
<text transform="matrix(0.96,0.27,-0.1,0.99,175.5,180.3)" font-family="'Liberation Sans','Noto Sans CJK SC',sans-serif" font-size="4.6" font-weight="900" fill="#111" stroke="#111" stroke-width="0.25" textLength="46" lengthAdjust="spacingAndGlyphs">上海精天电子仪器有限公司</text>
<g transform="matrix(0.96,0.26,-0.095,1,185,131)"><rect x="-5.0" y="-4.7" width="10" height="9.4" rx="1.1" fill="#fff" stroke="#111" stroke-width="1.8"/><rect x="-3" y="-1.3" width="6" height="3.2" fill="#111"/></g>
<g transform="matrix(0.96,0.26,-0.095,1,202.3,135.6)"><rect x="-5.0" y="-4.7" width="10" height="9.4" rx="1.1" fill="#fff" stroke="#111" stroke-width="1.8"/><path d="M0,-3 L0,3 M-1.5,-1 L0,-3 L1.5,-1 M-1.5,1 L0,3 L1.5,1" stroke="#111" stroke-width="0.8" fill="none"/></g>
<g transform="matrix(0.96,0.26,-0.095,1,219,140.2)"><rect x="-5.0" y="-4.7" width="10" height="9.4" rx="1.1" fill="#fff" stroke="#111" stroke-width="1.8"/><rect x="-3" y="-1.3" width="6" height="3.2" fill="#111"/></g>
<g transform="matrix(0.96,0.26,-0.095,1,183,148.8)"><rect x="-5.0" y="-4.7" width="10" height="9.4" rx="1.1" fill="#fff" stroke="#111" stroke-width="1.8"/><ellipse cx="0" cy="0.3" rx="2.4" ry="1.5" fill="none" stroke="#111" stroke-width="0.8"/></g>
<g transform="matrix(0.96,0.26,-0.095,1,200.2,153.3)"><rect x="-5.0" y="-4.7" width="10" height="9.4" rx="1.1" fill="#fff" stroke="#111" stroke-width="1.8"/><rect x="-3" y="-1.3" width="6" height="3.2" fill="#111"/></g>
<g transform="matrix(0.96,0.26,-0.095,1,217,157.8)"><rect x="-5.0" y="-4.7" width="10" height="9.4" rx="1.1" fill="#fff" stroke="#111" stroke-width="1.8"/><ellipse cx="0" cy="0.3" rx="2.4" ry="1.5" fill="none" stroke="#111" stroke-width="0.8"/></g>
<g transform="matrix(0.96,0.26,-0.095,1,181.3,166.3)"><rect x="-5.0" y="-4.7" width="10" height="9.4" rx="1.1" fill="#fff" stroke="#111" stroke-width="1.8"/><rect x="-3" y="-1.3" width="6" height="3.2" fill="#111"/></g>
<g transform="matrix(0.96,0.26,-0.095,1,198.4,170.8)"><rect x="-5.0" y="-4.7" width="10" height="9.4" rx="1.1" fill="#fff" stroke="#111" stroke-width="1.8"/><path d="M0,-3 L0,3 M-1.5,-1 L0,-3 L1.5,-1 M-1.5,1 L0,3 L1.5,1" stroke="#111" stroke-width="0.8" fill="none"/></g>
<g transform="matrix(0.96,0.26,-0.095,1,215.4,175.4)"><rect x="-5.0" y="-4.7" width="10" height="9.4" rx="1.1" fill="#fff" stroke="#111" stroke-width="1.8"/><rect x="-3" y="-1.3" width="6" height="3.2" fill="#111"/></g>
<path d="M85.5,68.8 L105.5,68.8 L181.2,114.0" fill="none" stroke="#444" stroke-width="0.9"/>
<path d="M86.0,154.2 L107.0,154.2 L234.8,229.0" fill="none" stroke="#444" stroke-width="0.9"/>
<path d="M94.5,216.6 L115.0,216.6 L227.5,246.5" fill="none" stroke="#444" stroke-width="0.9"/>
<path d="M86.0,301.8 L107.0,301.8 L213.0,248.6" fill="none" stroke="#444" stroke-width="0.9"/>
<path d="M86.0,464.3 L107.0,464.3 L177.3,357.8" fill="none" stroke="#444" stroke-width="0.9"/>
<path d="M208.0,464.3 L228.0,464.3 L258.5,392.0" fill="none" stroke="#444" stroke-width="0.9"/>
<path d="M441.0,153.3 L421.0,153.3 L343.8,300.2" fill="none" stroke="#444" stroke-width="0.9"/>
<path d="M385.5,464.3 L406.0,464.3 L431.7,415.0" fill="none" stroke="#444" stroke-width="0.9"/>
<text x="34" y="76.7" font-family="'Liberation Serif','Noto Serif CJK SC',serif" font-size="15.8" letter-spacing="1.05" font-weight="300" fill="#111">粘度计</text>
<text x="34" y="161.7" font-family="'Liberation Serif','Noto Serif CJK SC',serif" font-size="15.8" letter-spacing="1.05" font-weight="300" fill="#111">保温盖</text>
<text x="26.5" y="224" font-family="'Liberation Serif','Noto Serif CJK SC',serif" font-size="15.8" letter-spacing="1.05" font-weight="300" fill="#111">连接挂钩</text>
<text x="34" y="309.7" font-family="'Liberation Serif','Noto Serif CJK SC',serif" font-size="15.8" letter-spacing="1.05" font-weight="300" fill="#111">定位架</text>
<text x="34" y="472.7" font-family="'Liberation Serif','Noto Serif CJK SC',serif" font-size="15.8" letter-spacing="1.05" font-weight="300" fill="#111">加热炉</text>
<text x="122.5" y="472.7" font-family="'Liberation Serif','Noto Serif CJK SC',serif" font-size="15.8" letter-spacing="1.05" font-weight="300" fill="#111">水平调节脚</text>
<text x="442" y="161.7" font-family="'Liberation Serif','Noto Serif CJK SC',serif" font-size="15.8" letter-spacing="1.05" font-weight="300" fill="#111">连接电缆线</text>
<text x="299.5" y="472.7" font-family="'Liberation Serif','Noto Serif CJK SC',serif" font-size="15.8" letter-spacing="1.05" font-weight="300" fill="#111">温度控制仪</text>
</svg>
</body></html>
